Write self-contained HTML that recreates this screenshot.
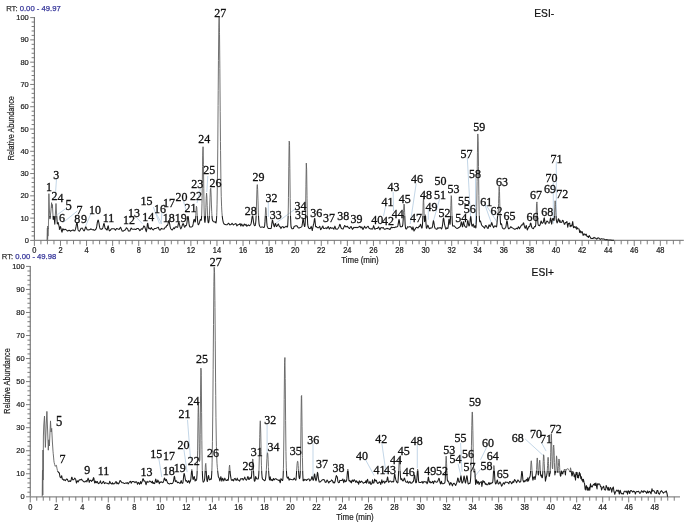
<!DOCTYPE html>
<html><head><meta charset="utf-8"><style>html,body{margin:0;padding:0;background:#fff;overflow:hidden}svg{display:block;filter:blur(0.3px)}</style></head>
<body><svg width="685" height="527" viewBox="0 0 685 527">
<style>
.ax{font-family:"Liberation Sans",sans-serif;font-size:7.5px;fill:#222;stroke:#222;stroke-width:0.2px}
.pk{font-family:"Liberation Serif",serif;font-size:12px;fill:#111;stroke:#111;stroke-width:0.3px}
.rt{font-family:"Liberation Sans",sans-serif;font-size:8px;fill:#333;stroke:#333;stroke-width:0.25px}
.rtb{fill:#36369a;stroke:#36369a}
.esi{font-family:"Liberation Sans",sans-serif;font-size:10.2px;fill:#111;stroke:#111;stroke-width:0.2px}
.ld line{stroke:#a9c4dc;stroke-width:0.7}
</style>
<rect width="685" height="527" fill="#fff"/>
<text x="6.2" y="10.5" class="rt" textLength="54.5" lengthAdjust="spacingAndGlyphs">RT: <tspan class="rtb">0.00 - 49.97</tspan></text>
<text x="1.8" y="259" class="rt" textLength="54.5" lengthAdjust="spacingAndGlyphs">RT: <tspan class="rtb">0.00 - 49.98</tspan></text>
<text x="534.3" y="17.2" class="esi">ESI-</text>
<text x="531.6" y="276.3" class="esi">ESI+</text>
<text transform="translate(13.7,128.2) rotate(-90)" text-anchor="middle" class="ax" style="font-size:8.2px" textLength="64" lengthAdjust="spacingAndGlyphs">Relative Abundance</text>
<text transform="translate(9.7,380.9) rotate(-90)" text-anchor="middle" class="ax" style="font-size:8.2px" textLength="65.5" lengthAdjust="spacingAndGlyphs">Relative Abundance</text>
<text x="360" y="262.9" text-anchor="middle" class="ax" style="font-size:8.4px" textLength="37.5" lengthAdjust="spacingAndGlyphs">Time (min)</text>
<text x="355" y="520" text-anchor="middle" class="ax" style="font-size:8.4px" textLength="37.5" lengthAdjust="spacingAndGlyphs">Time (min)</text>
<line x1="34.4" y1="17.1" x2="34.4" y2="240.4" stroke="#6e6e6e" stroke-width="1.1"/>
<line x1="30.2" y1="240.40" x2="34.4" y2="240.40" stroke="#6e6e6e" stroke-width="0.9"/>
<text x="28.799999999999997" y="243.00" text-anchor="end" class="ax">0</text>
<line x1="31.599999999999998" y1="235.94" x2="34.4" y2="235.94" stroke="#6e6e6e" stroke-width="0.9"/>
<line x1="31.599999999999998" y1="231.49" x2="34.4" y2="231.49" stroke="#6e6e6e" stroke-width="0.9"/>
<line x1="31.599999999999998" y1="227.03" x2="34.4" y2="227.03" stroke="#6e6e6e" stroke-width="0.9"/>
<line x1="31.599999999999998" y1="222.58" x2="34.4" y2="222.58" stroke="#6e6e6e" stroke-width="0.9"/>
<line x1="30.2" y1="218.12" x2="34.4" y2="218.12" stroke="#6e6e6e" stroke-width="0.9"/>
<text x="28.799999999999997" y="220.72" text-anchor="end" class="ax">10</text>
<line x1="31.599999999999998" y1="213.66" x2="34.4" y2="213.66" stroke="#6e6e6e" stroke-width="0.9"/>
<line x1="31.599999999999998" y1="209.21" x2="34.4" y2="209.21" stroke="#6e6e6e" stroke-width="0.9"/>
<line x1="31.599999999999998" y1="204.75" x2="34.4" y2="204.75" stroke="#6e6e6e" stroke-width="0.9"/>
<line x1="31.599999999999998" y1="200.30" x2="34.4" y2="200.30" stroke="#6e6e6e" stroke-width="0.9"/>
<line x1="30.2" y1="195.84" x2="34.4" y2="195.84" stroke="#6e6e6e" stroke-width="0.9"/>
<text x="28.799999999999997" y="198.44" text-anchor="end" class="ax">20</text>
<line x1="31.599999999999998" y1="191.38" x2="34.4" y2="191.38" stroke="#6e6e6e" stroke-width="0.9"/>
<line x1="31.599999999999998" y1="186.93" x2="34.4" y2="186.93" stroke="#6e6e6e" stroke-width="0.9"/>
<line x1="31.599999999999998" y1="182.47" x2="34.4" y2="182.47" stroke="#6e6e6e" stroke-width="0.9"/>
<line x1="31.599999999999998" y1="178.02" x2="34.4" y2="178.02" stroke="#6e6e6e" stroke-width="0.9"/>
<line x1="30.2" y1="173.56" x2="34.4" y2="173.56" stroke="#6e6e6e" stroke-width="0.9"/>
<text x="28.799999999999997" y="176.16" text-anchor="end" class="ax">30</text>
<line x1="31.599999999999998" y1="169.10" x2="34.4" y2="169.10" stroke="#6e6e6e" stroke-width="0.9"/>
<line x1="31.599999999999998" y1="164.65" x2="34.4" y2="164.65" stroke="#6e6e6e" stroke-width="0.9"/>
<line x1="31.599999999999998" y1="160.19" x2="34.4" y2="160.19" stroke="#6e6e6e" stroke-width="0.9"/>
<line x1="31.599999999999998" y1="155.74" x2="34.4" y2="155.74" stroke="#6e6e6e" stroke-width="0.9"/>
<line x1="30.2" y1="151.28" x2="34.4" y2="151.28" stroke="#6e6e6e" stroke-width="0.9"/>
<text x="28.799999999999997" y="153.88" text-anchor="end" class="ax">40</text>
<line x1="31.599999999999998" y1="146.82" x2="34.4" y2="146.82" stroke="#6e6e6e" stroke-width="0.9"/>
<line x1="31.599999999999998" y1="142.37" x2="34.4" y2="142.37" stroke="#6e6e6e" stroke-width="0.9"/>
<line x1="31.599999999999998" y1="137.91" x2="34.4" y2="137.91" stroke="#6e6e6e" stroke-width="0.9"/>
<line x1="31.599999999999998" y1="133.46" x2="34.4" y2="133.46" stroke="#6e6e6e" stroke-width="0.9"/>
<line x1="30.2" y1="129.00" x2="34.4" y2="129.00" stroke="#6e6e6e" stroke-width="0.9"/>
<text x="28.799999999999997" y="131.60" text-anchor="end" class="ax">50</text>
<line x1="31.599999999999998" y1="124.54" x2="34.4" y2="124.54" stroke="#6e6e6e" stroke-width="0.9"/>
<line x1="31.599999999999998" y1="120.09" x2="34.4" y2="120.09" stroke="#6e6e6e" stroke-width="0.9"/>
<line x1="31.599999999999998" y1="115.63" x2="34.4" y2="115.63" stroke="#6e6e6e" stroke-width="0.9"/>
<line x1="31.599999999999998" y1="111.18" x2="34.4" y2="111.18" stroke="#6e6e6e" stroke-width="0.9"/>
<line x1="30.2" y1="106.72" x2="34.4" y2="106.72" stroke="#6e6e6e" stroke-width="0.9"/>
<text x="28.799999999999997" y="109.32" text-anchor="end" class="ax">60</text>
<line x1="31.599999999999998" y1="102.26" x2="34.4" y2="102.26" stroke="#6e6e6e" stroke-width="0.9"/>
<line x1="31.599999999999998" y1="97.81" x2="34.4" y2="97.81" stroke="#6e6e6e" stroke-width="0.9"/>
<line x1="31.599999999999998" y1="93.35" x2="34.4" y2="93.35" stroke="#6e6e6e" stroke-width="0.9"/>
<line x1="31.599999999999998" y1="88.90" x2="34.4" y2="88.90" stroke="#6e6e6e" stroke-width="0.9"/>
<line x1="30.2" y1="84.44" x2="34.4" y2="84.44" stroke="#6e6e6e" stroke-width="0.9"/>
<text x="28.799999999999997" y="87.04" text-anchor="end" class="ax">70</text>
<line x1="31.599999999999998" y1="79.98" x2="34.4" y2="79.98" stroke="#6e6e6e" stroke-width="0.9"/>
<line x1="31.599999999999998" y1="75.53" x2="34.4" y2="75.53" stroke="#6e6e6e" stroke-width="0.9"/>
<line x1="31.599999999999998" y1="71.07" x2="34.4" y2="71.07" stroke="#6e6e6e" stroke-width="0.9"/>
<line x1="31.599999999999998" y1="66.62" x2="34.4" y2="66.62" stroke="#6e6e6e" stroke-width="0.9"/>
<line x1="30.2" y1="62.16" x2="34.4" y2="62.16" stroke="#6e6e6e" stroke-width="0.9"/>
<text x="28.799999999999997" y="64.76" text-anchor="end" class="ax">80</text>
<line x1="31.599999999999998" y1="57.70" x2="34.4" y2="57.70" stroke="#6e6e6e" stroke-width="0.9"/>
<line x1="31.599999999999998" y1="53.25" x2="34.4" y2="53.25" stroke="#6e6e6e" stroke-width="0.9"/>
<line x1="31.599999999999998" y1="48.79" x2="34.4" y2="48.79" stroke="#6e6e6e" stroke-width="0.9"/>
<line x1="31.599999999999998" y1="44.34" x2="34.4" y2="44.34" stroke="#6e6e6e" stroke-width="0.9"/>
<line x1="30.2" y1="39.88" x2="34.4" y2="39.88" stroke="#6e6e6e" stroke-width="0.9"/>
<text x="28.799999999999997" y="42.48" text-anchor="end" class="ax">90</text>
<line x1="31.599999999999998" y1="35.42" x2="34.4" y2="35.42" stroke="#6e6e6e" stroke-width="0.9"/>
<line x1="31.599999999999998" y1="30.97" x2="34.4" y2="30.97" stroke="#6e6e6e" stroke-width="0.9"/>
<line x1="31.599999999999998" y1="26.51" x2="34.4" y2="26.51" stroke="#6e6e6e" stroke-width="0.9"/>
<line x1="31.599999999999998" y1="22.06" x2="34.4" y2="22.06" stroke="#6e6e6e" stroke-width="0.9"/>
<line x1="30.2" y1="17.60" x2="34.4" y2="17.60" stroke="#6e6e6e" stroke-width="0.9"/>
<text x="28.799999999999997" y="20.20" text-anchor="end" class="ax">100</text>
<line x1="34.4" y1="240.4" x2="683.8" y2="240.4" stroke="#8a8a8a" stroke-width="1.2"/>
<line x1="34.40" y1="240.4" x2="34.40" y2="245.9" stroke="#6e6e6e" stroke-width="0.9"/>
<text transform="translate(34.40,252.60) scale(1,1.2)" text-anchor="middle" class="ax">0</text>
<line x1="40.92" y1="240.4" x2="40.92" y2="244.3" stroke="#6e6e6e" stroke-width="0.9"/>
<line x1="47.44" y1="240.4" x2="47.44" y2="244.3" stroke="#6e6e6e" stroke-width="0.9"/>
<line x1="53.96" y1="240.4" x2="53.96" y2="244.3" stroke="#6e6e6e" stroke-width="0.9"/>
<line x1="60.48" y1="240.4" x2="60.48" y2="245.9" stroke="#6e6e6e" stroke-width="0.9"/>
<text transform="translate(60.48,252.60) scale(1,1.2)" text-anchor="middle" class="ax">2</text>
<line x1="67.00" y1="240.4" x2="67.00" y2="244.3" stroke="#6e6e6e" stroke-width="0.9"/>
<line x1="73.52" y1="240.4" x2="73.52" y2="244.3" stroke="#6e6e6e" stroke-width="0.9"/>
<line x1="80.04" y1="240.4" x2="80.04" y2="244.3" stroke="#6e6e6e" stroke-width="0.9"/>
<line x1="86.56" y1="240.4" x2="86.56" y2="245.9" stroke="#6e6e6e" stroke-width="0.9"/>
<text transform="translate(86.56,252.60) scale(1,1.2)" text-anchor="middle" class="ax">4</text>
<line x1="93.08" y1="240.4" x2="93.08" y2="244.3" stroke="#6e6e6e" stroke-width="0.9"/>
<line x1="99.60" y1="240.4" x2="99.60" y2="244.3" stroke="#6e6e6e" stroke-width="0.9"/>
<line x1="106.12" y1="240.4" x2="106.12" y2="244.3" stroke="#6e6e6e" stroke-width="0.9"/>
<line x1="112.64" y1="240.4" x2="112.64" y2="245.9" stroke="#6e6e6e" stroke-width="0.9"/>
<text transform="translate(112.64,252.60) scale(1,1.2)" text-anchor="middle" class="ax">6</text>
<line x1="119.16" y1="240.4" x2="119.16" y2="244.3" stroke="#6e6e6e" stroke-width="0.9"/>
<line x1="125.68" y1="240.4" x2="125.68" y2="244.3" stroke="#6e6e6e" stroke-width="0.9"/>
<line x1="132.20" y1="240.4" x2="132.20" y2="244.3" stroke="#6e6e6e" stroke-width="0.9"/>
<line x1="138.72" y1="240.4" x2="138.72" y2="245.9" stroke="#6e6e6e" stroke-width="0.9"/>
<text transform="translate(138.72,252.60) scale(1,1.2)" text-anchor="middle" class="ax">8</text>
<line x1="145.24" y1="240.4" x2="145.24" y2="244.3" stroke="#6e6e6e" stroke-width="0.9"/>
<line x1="151.76" y1="240.4" x2="151.76" y2="244.3" stroke="#6e6e6e" stroke-width="0.9"/>
<line x1="158.28" y1="240.4" x2="158.28" y2="244.3" stroke="#6e6e6e" stroke-width="0.9"/>
<line x1="164.80" y1="240.4" x2="164.80" y2="245.9" stroke="#6e6e6e" stroke-width="0.9"/>
<text transform="translate(164.80,252.60) scale(1,1.2)" text-anchor="middle" class="ax">10</text>
<line x1="171.32" y1="240.4" x2="171.32" y2="244.3" stroke="#6e6e6e" stroke-width="0.9"/>
<line x1="177.84" y1="240.4" x2="177.84" y2="244.3" stroke="#6e6e6e" stroke-width="0.9"/>
<line x1="184.36" y1="240.4" x2="184.36" y2="244.3" stroke="#6e6e6e" stroke-width="0.9"/>
<line x1="190.88" y1="240.4" x2="190.88" y2="245.9" stroke="#6e6e6e" stroke-width="0.9"/>
<text transform="translate(190.88,252.60) scale(1,1.2)" text-anchor="middle" class="ax">12</text>
<line x1="197.40" y1="240.4" x2="197.40" y2="244.3" stroke="#6e6e6e" stroke-width="0.9"/>
<line x1="203.92" y1="240.4" x2="203.92" y2="244.3" stroke="#6e6e6e" stroke-width="0.9"/>
<line x1="210.44" y1="240.4" x2="210.44" y2="244.3" stroke="#6e6e6e" stroke-width="0.9"/>
<line x1="216.96" y1="240.4" x2="216.96" y2="245.9" stroke="#6e6e6e" stroke-width="0.9"/>
<text transform="translate(216.96,252.60) scale(1,1.2)" text-anchor="middle" class="ax">14</text>
<line x1="223.48" y1="240.4" x2="223.48" y2="244.3" stroke="#6e6e6e" stroke-width="0.9"/>
<line x1="230.00" y1="240.4" x2="230.00" y2="244.3" stroke="#6e6e6e" stroke-width="0.9"/>
<line x1="236.52" y1="240.4" x2="236.52" y2="244.3" stroke="#6e6e6e" stroke-width="0.9"/>
<line x1="243.04" y1="240.4" x2="243.04" y2="245.9" stroke="#6e6e6e" stroke-width="0.9"/>
<text transform="translate(243.04,252.60) scale(1,1.2)" text-anchor="middle" class="ax">16</text>
<line x1="249.56" y1="240.4" x2="249.56" y2="244.3" stroke="#6e6e6e" stroke-width="0.9"/>
<line x1="256.08" y1="240.4" x2="256.08" y2="244.3" stroke="#6e6e6e" stroke-width="0.9"/>
<line x1="262.60" y1="240.4" x2="262.60" y2="244.3" stroke="#6e6e6e" stroke-width="0.9"/>
<line x1="269.12" y1="240.4" x2="269.12" y2="245.9" stroke="#6e6e6e" stroke-width="0.9"/>
<text transform="translate(269.12,252.60) scale(1,1.2)" text-anchor="middle" class="ax">18</text>
<line x1="275.64" y1="240.4" x2="275.64" y2="244.3" stroke="#6e6e6e" stroke-width="0.9"/>
<line x1="282.16" y1="240.4" x2="282.16" y2="244.3" stroke="#6e6e6e" stroke-width="0.9"/>
<line x1="288.68" y1="240.4" x2="288.68" y2="244.3" stroke="#6e6e6e" stroke-width="0.9"/>
<line x1="295.20" y1="240.4" x2="295.20" y2="245.9" stroke="#6e6e6e" stroke-width="0.9"/>
<text transform="translate(295.20,252.60) scale(1,1.2)" text-anchor="middle" class="ax">20</text>
<line x1="301.72" y1="240.4" x2="301.72" y2="244.3" stroke="#6e6e6e" stroke-width="0.9"/>
<line x1="308.24" y1="240.4" x2="308.24" y2="244.3" stroke="#6e6e6e" stroke-width="0.9"/>
<line x1="314.76" y1="240.4" x2="314.76" y2="244.3" stroke="#6e6e6e" stroke-width="0.9"/>
<line x1="321.28" y1="240.4" x2="321.28" y2="245.9" stroke="#6e6e6e" stroke-width="0.9"/>
<text transform="translate(321.28,252.60) scale(1,1.2)" text-anchor="middle" class="ax">22</text>
<line x1="327.80" y1="240.4" x2="327.80" y2="244.3" stroke="#6e6e6e" stroke-width="0.9"/>
<line x1="334.32" y1="240.4" x2="334.32" y2="244.3" stroke="#6e6e6e" stroke-width="0.9"/>
<line x1="340.84" y1="240.4" x2="340.84" y2="244.3" stroke="#6e6e6e" stroke-width="0.9"/>
<line x1="347.36" y1="240.4" x2="347.36" y2="245.9" stroke="#6e6e6e" stroke-width="0.9"/>
<text transform="translate(347.36,252.60) scale(1,1.2)" text-anchor="middle" class="ax">24</text>
<line x1="353.88" y1="240.4" x2="353.88" y2="244.3" stroke="#6e6e6e" stroke-width="0.9"/>
<line x1="360.40" y1="240.4" x2="360.40" y2="244.3" stroke="#6e6e6e" stroke-width="0.9"/>
<line x1="366.92" y1="240.4" x2="366.92" y2="244.3" stroke="#6e6e6e" stroke-width="0.9"/>
<line x1="373.44" y1="240.4" x2="373.44" y2="245.9" stroke="#6e6e6e" stroke-width="0.9"/>
<text transform="translate(373.44,252.60) scale(1,1.2)" text-anchor="middle" class="ax">26</text>
<line x1="379.96" y1="240.4" x2="379.96" y2="244.3" stroke="#6e6e6e" stroke-width="0.9"/>
<line x1="386.48" y1="240.4" x2="386.48" y2="244.3" stroke="#6e6e6e" stroke-width="0.9"/>
<line x1="393.00" y1="240.4" x2="393.00" y2="244.3" stroke="#6e6e6e" stroke-width="0.9"/>
<line x1="399.52" y1="240.4" x2="399.52" y2="245.9" stroke="#6e6e6e" stroke-width="0.9"/>
<text transform="translate(399.52,252.60) scale(1,1.2)" text-anchor="middle" class="ax">28</text>
<line x1="406.04" y1="240.4" x2="406.04" y2="244.3" stroke="#6e6e6e" stroke-width="0.9"/>
<line x1="412.56" y1="240.4" x2="412.56" y2="244.3" stroke="#6e6e6e" stroke-width="0.9"/>
<line x1="419.08" y1="240.4" x2="419.08" y2="244.3" stroke="#6e6e6e" stroke-width="0.9"/>
<line x1="425.60" y1="240.4" x2="425.60" y2="245.9" stroke="#6e6e6e" stroke-width="0.9"/>
<text transform="translate(425.60,252.60) scale(1,1.2)" text-anchor="middle" class="ax">30</text>
<line x1="432.12" y1="240.4" x2="432.12" y2="244.3" stroke="#6e6e6e" stroke-width="0.9"/>
<line x1="438.64" y1="240.4" x2="438.64" y2="244.3" stroke="#6e6e6e" stroke-width="0.9"/>
<line x1="445.16" y1="240.4" x2="445.16" y2="244.3" stroke="#6e6e6e" stroke-width="0.9"/>
<line x1="451.68" y1="240.4" x2="451.68" y2="245.9" stroke="#6e6e6e" stroke-width="0.9"/>
<text transform="translate(451.68,252.60) scale(1,1.2)" text-anchor="middle" class="ax">32</text>
<line x1="458.20" y1="240.4" x2="458.20" y2="244.3" stroke="#6e6e6e" stroke-width="0.9"/>
<line x1="464.72" y1="240.4" x2="464.72" y2="244.3" stroke="#6e6e6e" stroke-width="0.9"/>
<line x1="471.24" y1="240.4" x2="471.24" y2="244.3" stroke="#6e6e6e" stroke-width="0.9"/>
<line x1="477.76" y1="240.4" x2="477.76" y2="245.9" stroke="#6e6e6e" stroke-width="0.9"/>
<text transform="translate(477.76,252.60) scale(1,1.2)" text-anchor="middle" class="ax">34</text>
<line x1="484.28" y1="240.4" x2="484.28" y2="244.3" stroke="#6e6e6e" stroke-width="0.9"/>
<line x1="490.80" y1="240.4" x2="490.80" y2="244.3" stroke="#6e6e6e" stroke-width="0.9"/>
<line x1="497.32" y1="240.4" x2="497.32" y2="244.3" stroke="#6e6e6e" stroke-width="0.9"/>
<line x1="503.84" y1="240.4" x2="503.84" y2="245.9" stroke="#6e6e6e" stroke-width="0.9"/>
<text transform="translate(503.84,252.60) scale(1,1.2)" text-anchor="middle" class="ax">36</text>
<line x1="510.36" y1="240.4" x2="510.36" y2="244.3" stroke="#6e6e6e" stroke-width="0.9"/>
<line x1="516.88" y1="240.4" x2="516.88" y2="244.3" stroke="#6e6e6e" stroke-width="0.9"/>
<line x1="523.40" y1="240.4" x2="523.40" y2="244.3" stroke="#6e6e6e" stroke-width="0.9"/>
<line x1="529.92" y1="240.4" x2="529.92" y2="245.9" stroke="#6e6e6e" stroke-width="0.9"/>
<text transform="translate(529.92,252.60) scale(1,1.2)" text-anchor="middle" class="ax">38</text>
<line x1="536.44" y1="240.4" x2="536.44" y2="244.3" stroke="#6e6e6e" stroke-width="0.9"/>
<line x1="542.96" y1="240.4" x2="542.96" y2="244.3" stroke="#6e6e6e" stroke-width="0.9"/>
<line x1="549.48" y1="240.4" x2="549.48" y2="244.3" stroke="#6e6e6e" stroke-width="0.9"/>
<line x1="556.00" y1="240.4" x2="556.00" y2="245.9" stroke="#6e6e6e" stroke-width="0.9"/>
<text transform="translate(556.00,252.60) scale(1,1.2)" text-anchor="middle" class="ax">40</text>
<line x1="562.52" y1="240.4" x2="562.52" y2="244.3" stroke="#6e6e6e" stroke-width="0.9"/>
<line x1="569.04" y1="240.4" x2="569.04" y2="244.3" stroke="#6e6e6e" stroke-width="0.9"/>
<line x1="575.56" y1="240.4" x2="575.56" y2="244.3" stroke="#6e6e6e" stroke-width="0.9"/>
<line x1="582.08" y1="240.4" x2="582.08" y2="245.9" stroke="#6e6e6e" stroke-width="0.9"/>
<text transform="translate(582.08,252.60) scale(1,1.2)" text-anchor="middle" class="ax">42</text>
<line x1="588.60" y1="240.4" x2="588.60" y2="244.3" stroke="#6e6e6e" stroke-width="0.9"/>
<line x1="595.12" y1="240.4" x2="595.12" y2="244.3" stroke="#6e6e6e" stroke-width="0.9"/>
<line x1="601.64" y1="240.4" x2="601.64" y2="244.3" stroke="#6e6e6e" stroke-width="0.9"/>
<line x1="608.16" y1="240.4" x2="608.16" y2="245.9" stroke="#6e6e6e" stroke-width="0.9"/>
<text transform="translate(608.16,252.60) scale(1,1.2)" text-anchor="middle" class="ax">44</text>
<line x1="614.68" y1="240.4" x2="614.68" y2="244.3" stroke="#6e6e6e" stroke-width="0.9"/>
<line x1="621.20" y1="240.4" x2="621.20" y2="244.3" stroke="#6e6e6e" stroke-width="0.9"/>
<line x1="627.72" y1="240.4" x2="627.72" y2="244.3" stroke="#6e6e6e" stroke-width="0.9"/>
<line x1="634.24" y1="240.4" x2="634.24" y2="245.9" stroke="#6e6e6e" stroke-width="0.9"/>
<text transform="translate(634.24,252.60) scale(1,1.2)" text-anchor="middle" class="ax">46</text>
<line x1="640.76" y1="240.4" x2="640.76" y2="244.3" stroke="#6e6e6e" stroke-width="0.9"/>
<line x1="647.28" y1="240.4" x2="647.28" y2="244.3" stroke="#6e6e6e" stroke-width="0.9"/>
<line x1="653.80" y1="240.4" x2="653.80" y2="244.3" stroke="#6e6e6e" stroke-width="0.9"/>
<line x1="660.32" y1="240.4" x2="660.32" y2="245.9" stroke="#6e6e6e" stroke-width="0.9"/>
<text transform="translate(660.32,252.60) scale(1,1.2)" text-anchor="middle" class="ax">48</text>
<line x1="666.84" y1="240.4" x2="666.84" y2="244.3" stroke="#6e6e6e" stroke-width="0.9"/>
<line x1="673.36" y1="240.4" x2="673.36" y2="244.3" stroke="#6e6e6e" stroke-width="0.9"/>
<line x1="679.88" y1="240.4" x2="679.88" y2="244.3" stroke="#6e6e6e" stroke-width="0.9"/>
<line x1="30.25" y1="265.9" x2="30.25" y2="496.8" stroke="#6e6e6e" stroke-width="1.1"/>
<line x1="26.05" y1="496.80" x2="30.25" y2="496.80" stroke="#6e6e6e" stroke-width="0.9"/>
<text x="24.65" y="499.40" text-anchor="end" class="ax">0</text>
<line x1="27.45" y1="492.19" x2="30.25" y2="492.19" stroke="#6e6e6e" stroke-width="0.9"/>
<line x1="27.45" y1="487.58" x2="30.25" y2="487.58" stroke="#6e6e6e" stroke-width="0.9"/>
<line x1="27.45" y1="482.98" x2="30.25" y2="482.98" stroke="#6e6e6e" stroke-width="0.9"/>
<line x1="27.45" y1="478.37" x2="30.25" y2="478.37" stroke="#6e6e6e" stroke-width="0.9"/>
<line x1="26.05" y1="473.76" x2="30.25" y2="473.76" stroke="#6e6e6e" stroke-width="0.9"/>
<text x="24.65" y="476.36" text-anchor="end" class="ax">10</text>
<line x1="27.45" y1="469.15" x2="30.25" y2="469.15" stroke="#6e6e6e" stroke-width="0.9"/>
<line x1="27.45" y1="464.54" x2="30.25" y2="464.54" stroke="#6e6e6e" stroke-width="0.9"/>
<line x1="27.45" y1="459.94" x2="30.25" y2="459.94" stroke="#6e6e6e" stroke-width="0.9"/>
<line x1="27.45" y1="455.33" x2="30.25" y2="455.33" stroke="#6e6e6e" stroke-width="0.9"/>
<line x1="26.05" y1="450.72" x2="30.25" y2="450.72" stroke="#6e6e6e" stroke-width="0.9"/>
<text x="24.65" y="453.32" text-anchor="end" class="ax">20</text>
<line x1="27.45" y1="446.11" x2="30.25" y2="446.11" stroke="#6e6e6e" stroke-width="0.9"/>
<line x1="27.45" y1="441.50" x2="30.25" y2="441.50" stroke="#6e6e6e" stroke-width="0.9"/>
<line x1="27.45" y1="436.90" x2="30.25" y2="436.90" stroke="#6e6e6e" stroke-width="0.9"/>
<line x1="27.45" y1="432.29" x2="30.25" y2="432.29" stroke="#6e6e6e" stroke-width="0.9"/>
<line x1="26.05" y1="427.68" x2="30.25" y2="427.68" stroke="#6e6e6e" stroke-width="0.9"/>
<text x="24.65" y="430.28" text-anchor="end" class="ax">30</text>
<line x1="27.45" y1="423.07" x2="30.25" y2="423.07" stroke="#6e6e6e" stroke-width="0.9"/>
<line x1="27.45" y1="418.46" x2="30.25" y2="418.46" stroke="#6e6e6e" stroke-width="0.9"/>
<line x1="27.45" y1="413.86" x2="30.25" y2="413.86" stroke="#6e6e6e" stroke-width="0.9"/>
<line x1="27.45" y1="409.25" x2="30.25" y2="409.25" stroke="#6e6e6e" stroke-width="0.9"/>
<line x1="26.05" y1="404.64" x2="30.25" y2="404.64" stroke="#6e6e6e" stroke-width="0.9"/>
<text x="24.65" y="407.24" text-anchor="end" class="ax">40</text>
<line x1="27.45" y1="400.03" x2="30.25" y2="400.03" stroke="#6e6e6e" stroke-width="0.9"/>
<line x1="27.45" y1="395.42" x2="30.25" y2="395.42" stroke="#6e6e6e" stroke-width="0.9"/>
<line x1="27.45" y1="390.82" x2="30.25" y2="390.82" stroke="#6e6e6e" stroke-width="0.9"/>
<line x1="27.45" y1="386.21" x2="30.25" y2="386.21" stroke="#6e6e6e" stroke-width="0.9"/>
<line x1="26.05" y1="381.60" x2="30.25" y2="381.60" stroke="#6e6e6e" stroke-width="0.9"/>
<text x="24.65" y="384.20" text-anchor="end" class="ax">50</text>
<line x1="27.45" y1="376.99" x2="30.25" y2="376.99" stroke="#6e6e6e" stroke-width="0.9"/>
<line x1="27.45" y1="372.38" x2="30.25" y2="372.38" stroke="#6e6e6e" stroke-width="0.9"/>
<line x1="27.45" y1="367.78" x2="30.25" y2="367.78" stroke="#6e6e6e" stroke-width="0.9"/>
<line x1="27.45" y1="363.17" x2="30.25" y2="363.17" stroke="#6e6e6e" stroke-width="0.9"/>
<line x1="26.05" y1="358.56" x2="30.25" y2="358.56" stroke="#6e6e6e" stroke-width="0.9"/>
<text x="24.65" y="361.16" text-anchor="end" class="ax">60</text>
<line x1="27.45" y1="353.95" x2="30.25" y2="353.95" stroke="#6e6e6e" stroke-width="0.9"/>
<line x1="27.45" y1="349.34" x2="30.25" y2="349.34" stroke="#6e6e6e" stroke-width="0.9"/>
<line x1="27.45" y1="344.74" x2="30.25" y2="344.74" stroke="#6e6e6e" stroke-width="0.9"/>
<line x1="27.45" y1="340.13" x2="30.25" y2="340.13" stroke="#6e6e6e" stroke-width="0.9"/>
<line x1="26.05" y1="335.52" x2="30.25" y2="335.52" stroke="#6e6e6e" stroke-width="0.9"/>
<text x="24.65" y="338.12" text-anchor="end" class="ax">70</text>
<line x1="27.45" y1="330.91" x2="30.25" y2="330.91" stroke="#6e6e6e" stroke-width="0.9"/>
<line x1="27.45" y1="326.30" x2="30.25" y2="326.30" stroke="#6e6e6e" stroke-width="0.9"/>
<line x1="27.45" y1="321.70" x2="30.25" y2="321.70" stroke="#6e6e6e" stroke-width="0.9"/>
<line x1="27.45" y1="317.09" x2="30.25" y2="317.09" stroke="#6e6e6e" stroke-width="0.9"/>
<line x1="26.05" y1="312.48" x2="30.25" y2="312.48" stroke="#6e6e6e" stroke-width="0.9"/>
<text x="24.65" y="315.08" text-anchor="end" class="ax">80</text>
<line x1="27.45" y1="307.87" x2="30.25" y2="307.87" stroke="#6e6e6e" stroke-width="0.9"/>
<line x1="27.45" y1="303.26" x2="30.25" y2="303.26" stroke="#6e6e6e" stroke-width="0.9"/>
<line x1="27.45" y1="298.66" x2="30.25" y2="298.66" stroke="#6e6e6e" stroke-width="0.9"/>
<line x1="27.45" y1="294.05" x2="30.25" y2="294.05" stroke="#6e6e6e" stroke-width="0.9"/>
<line x1="26.05" y1="289.44" x2="30.25" y2="289.44" stroke="#6e6e6e" stroke-width="0.9"/>
<text x="24.65" y="292.04" text-anchor="end" class="ax">90</text>
<line x1="27.45" y1="284.83" x2="30.25" y2="284.83" stroke="#6e6e6e" stroke-width="0.9"/>
<line x1="27.45" y1="280.22" x2="30.25" y2="280.22" stroke="#6e6e6e" stroke-width="0.9"/>
<line x1="27.45" y1="275.62" x2="30.25" y2="275.62" stroke="#6e6e6e" stroke-width="0.9"/>
<line x1="27.45" y1="271.01" x2="30.25" y2="271.01" stroke="#6e6e6e" stroke-width="0.9"/>
<line x1="26.05" y1="266.40" x2="30.25" y2="266.40" stroke="#6e6e6e" stroke-width="0.9"/>
<text x="24.65" y="269.00" text-anchor="end" class="ax">100</text>
<line x1="30.25" y1="496.8" x2="680" y2="496.8" stroke="#8a8a8a" stroke-width="1.2"/>
<line x1="30.25" y1="496.8" x2="30.25" y2="502.40000000000003" stroke="#6e6e6e" stroke-width="0.9"/>
<text transform="translate(30.25,510.10) scale(1,1.2)" text-anchor="middle" class="ax">0</text>
<line x1="36.76" y1="496.8" x2="36.76" y2="500.7" stroke="#6e6e6e" stroke-width="0.9"/>
<line x1="43.26" y1="496.8" x2="43.26" y2="500.7" stroke="#6e6e6e" stroke-width="0.9"/>
<line x1="49.77" y1="496.8" x2="49.77" y2="500.7" stroke="#6e6e6e" stroke-width="0.9"/>
<line x1="56.27" y1="496.8" x2="56.27" y2="502.40000000000003" stroke="#6e6e6e" stroke-width="0.9"/>
<text transform="translate(56.27,510.10) scale(1,1.2)" text-anchor="middle" class="ax">2</text>
<line x1="62.77" y1="496.8" x2="62.77" y2="500.7" stroke="#6e6e6e" stroke-width="0.9"/>
<line x1="69.28" y1="496.8" x2="69.28" y2="500.7" stroke="#6e6e6e" stroke-width="0.9"/>
<line x1="75.78" y1="496.8" x2="75.78" y2="500.7" stroke="#6e6e6e" stroke-width="0.9"/>
<line x1="82.29" y1="496.8" x2="82.29" y2="502.40000000000003" stroke="#6e6e6e" stroke-width="0.9"/>
<text transform="translate(82.29,510.10) scale(1,1.2)" text-anchor="middle" class="ax">4</text>
<line x1="88.80" y1="496.8" x2="88.80" y2="500.7" stroke="#6e6e6e" stroke-width="0.9"/>
<line x1="95.30" y1="496.8" x2="95.30" y2="500.7" stroke="#6e6e6e" stroke-width="0.9"/>
<line x1="101.80" y1="496.8" x2="101.80" y2="500.7" stroke="#6e6e6e" stroke-width="0.9"/>
<line x1="108.31" y1="496.8" x2="108.31" y2="502.40000000000003" stroke="#6e6e6e" stroke-width="0.9"/>
<text transform="translate(108.31,510.10) scale(1,1.2)" text-anchor="middle" class="ax">6</text>
<line x1="114.81" y1="496.8" x2="114.81" y2="500.7" stroke="#6e6e6e" stroke-width="0.9"/>
<line x1="121.32" y1="496.8" x2="121.32" y2="500.7" stroke="#6e6e6e" stroke-width="0.9"/>
<line x1="127.83" y1="496.8" x2="127.83" y2="500.7" stroke="#6e6e6e" stroke-width="0.9"/>
<line x1="134.33" y1="496.8" x2="134.33" y2="502.40000000000003" stroke="#6e6e6e" stroke-width="0.9"/>
<text transform="translate(134.33,510.10) scale(1,1.2)" text-anchor="middle" class="ax">8</text>
<line x1="140.83" y1="496.8" x2="140.83" y2="500.7" stroke="#6e6e6e" stroke-width="0.9"/>
<line x1="147.34" y1="496.8" x2="147.34" y2="500.7" stroke="#6e6e6e" stroke-width="0.9"/>
<line x1="153.84" y1="496.8" x2="153.84" y2="500.7" stroke="#6e6e6e" stroke-width="0.9"/>
<line x1="160.35" y1="496.8" x2="160.35" y2="502.40000000000003" stroke="#6e6e6e" stroke-width="0.9"/>
<text transform="translate(160.35,510.10) scale(1,1.2)" text-anchor="middle" class="ax">10</text>
<line x1="166.85" y1="496.8" x2="166.85" y2="500.7" stroke="#6e6e6e" stroke-width="0.9"/>
<line x1="173.36" y1="496.8" x2="173.36" y2="500.7" stroke="#6e6e6e" stroke-width="0.9"/>
<line x1="179.87" y1="496.8" x2="179.87" y2="500.7" stroke="#6e6e6e" stroke-width="0.9"/>
<line x1="186.37" y1="496.8" x2="186.37" y2="502.40000000000003" stroke="#6e6e6e" stroke-width="0.9"/>
<text transform="translate(186.37,510.10) scale(1,1.2)" text-anchor="middle" class="ax">12</text>
<line x1="192.88" y1="496.8" x2="192.88" y2="500.7" stroke="#6e6e6e" stroke-width="0.9"/>
<line x1="199.38" y1="496.8" x2="199.38" y2="500.7" stroke="#6e6e6e" stroke-width="0.9"/>
<line x1="205.88" y1="496.8" x2="205.88" y2="500.7" stroke="#6e6e6e" stroke-width="0.9"/>
<line x1="212.39" y1="496.8" x2="212.39" y2="502.40000000000003" stroke="#6e6e6e" stroke-width="0.9"/>
<text transform="translate(212.39,510.10) scale(1,1.2)" text-anchor="middle" class="ax">14</text>
<line x1="218.90" y1="496.8" x2="218.90" y2="500.7" stroke="#6e6e6e" stroke-width="0.9"/>
<line x1="225.40" y1="496.8" x2="225.40" y2="500.7" stroke="#6e6e6e" stroke-width="0.9"/>
<line x1="231.91" y1="496.8" x2="231.91" y2="500.7" stroke="#6e6e6e" stroke-width="0.9"/>
<line x1="238.41" y1="496.8" x2="238.41" y2="502.40000000000003" stroke="#6e6e6e" stroke-width="0.9"/>
<text transform="translate(238.41,510.10) scale(1,1.2)" text-anchor="middle" class="ax">16</text>
<line x1="244.91" y1="496.8" x2="244.91" y2="500.7" stroke="#6e6e6e" stroke-width="0.9"/>
<line x1="251.42" y1="496.8" x2="251.42" y2="500.7" stroke="#6e6e6e" stroke-width="0.9"/>
<line x1="257.92" y1="496.8" x2="257.92" y2="500.7" stroke="#6e6e6e" stroke-width="0.9"/>
<line x1="264.43" y1="496.8" x2="264.43" y2="502.40000000000003" stroke="#6e6e6e" stroke-width="0.9"/>
<text transform="translate(264.43,510.10) scale(1,1.2)" text-anchor="middle" class="ax">18</text>
<line x1="270.94" y1="496.8" x2="270.94" y2="500.7" stroke="#6e6e6e" stroke-width="0.9"/>
<line x1="277.44" y1="496.8" x2="277.44" y2="500.7" stroke="#6e6e6e" stroke-width="0.9"/>
<line x1="283.94" y1="496.8" x2="283.94" y2="500.7" stroke="#6e6e6e" stroke-width="0.9"/>
<line x1="290.45" y1="496.8" x2="290.45" y2="502.40000000000003" stroke="#6e6e6e" stroke-width="0.9"/>
<text transform="translate(290.45,510.10) scale(1,1.2)" text-anchor="middle" class="ax">20</text>
<line x1="296.95" y1="496.8" x2="296.95" y2="500.7" stroke="#6e6e6e" stroke-width="0.9"/>
<line x1="303.46" y1="496.8" x2="303.46" y2="500.7" stroke="#6e6e6e" stroke-width="0.9"/>
<line x1="309.96" y1="496.8" x2="309.96" y2="500.7" stroke="#6e6e6e" stroke-width="0.9"/>
<line x1="316.47" y1="496.8" x2="316.47" y2="502.40000000000003" stroke="#6e6e6e" stroke-width="0.9"/>
<text transform="translate(316.47,510.10) scale(1,1.2)" text-anchor="middle" class="ax">22</text>
<line x1="322.98" y1="496.8" x2="322.98" y2="500.7" stroke="#6e6e6e" stroke-width="0.9"/>
<line x1="329.48" y1="496.8" x2="329.48" y2="500.7" stroke="#6e6e6e" stroke-width="0.9"/>
<line x1="335.99" y1="496.8" x2="335.99" y2="500.7" stroke="#6e6e6e" stroke-width="0.9"/>
<line x1="342.49" y1="496.8" x2="342.49" y2="502.40000000000003" stroke="#6e6e6e" stroke-width="0.9"/>
<text transform="translate(342.49,510.10) scale(1,1.2)" text-anchor="middle" class="ax">24</text>
<line x1="349.00" y1="496.8" x2="349.00" y2="500.7" stroke="#6e6e6e" stroke-width="0.9"/>
<line x1="355.50" y1="496.8" x2="355.50" y2="500.7" stroke="#6e6e6e" stroke-width="0.9"/>
<line x1="362.00" y1="496.8" x2="362.00" y2="500.7" stroke="#6e6e6e" stroke-width="0.9"/>
<line x1="368.51" y1="496.8" x2="368.51" y2="502.40000000000003" stroke="#6e6e6e" stroke-width="0.9"/>
<text transform="translate(368.51,510.10) scale(1,1.2)" text-anchor="middle" class="ax">26</text>
<line x1="375.01" y1="496.8" x2="375.01" y2="500.7" stroke="#6e6e6e" stroke-width="0.9"/>
<line x1="381.52" y1="496.8" x2="381.52" y2="500.7" stroke="#6e6e6e" stroke-width="0.9"/>
<line x1="388.02" y1="496.8" x2="388.02" y2="500.7" stroke="#6e6e6e" stroke-width="0.9"/>
<line x1="394.53" y1="496.8" x2="394.53" y2="502.40000000000003" stroke="#6e6e6e" stroke-width="0.9"/>
<text transform="translate(394.53,510.10) scale(1,1.2)" text-anchor="middle" class="ax">28</text>
<line x1="401.03" y1="496.8" x2="401.03" y2="500.7" stroke="#6e6e6e" stroke-width="0.9"/>
<line x1="407.54" y1="496.8" x2="407.54" y2="500.7" stroke="#6e6e6e" stroke-width="0.9"/>
<line x1="414.05" y1="496.8" x2="414.05" y2="500.7" stroke="#6e6e6e" stroke-width="0.9"/>
<line x1="420.55" y1="496.8" x2="420.55" y2="502.40000000000003" stroke="#6e6e6e" stroke-width="0.9"/>
<text transform="translate(420.55,510.10) scale(1,1.2)" text-anchor="middle" class="ax">30</text>
<line x1="427.06" y1="496.8" x2="427.06" y2="500.7" stroke="#6e6e6e" stroke-width="0.9"/>
<line x1="433.56" y1="496.8" x2="433.56" y2="500.7" stroke="#6e6e6e" stroke-width="0.9"/>
<line x1="440.06" y1="496.8" x2="440.06" y2="500.7" stroke="#6e6e6e" stroke-width="0.9"/>
<line x1="446.57" y1="496.8" x2="446.57" y2="502.40000000000003" stroke="#6e6e6e" stroke-width="0.9"/>
<text transform="translate(446.57,510.10) scale(1,1.2)" text-anchor="middle" class="ax">32</text>
<line x1="453.07" y1="496.8" x2="453.07" y2="500.7" stroke="#6e6e6e" stroke-width="0.9"/>
<line x1="459.58" y1="496.8" x2="459.58" y2="500.7" stroke="#6e6e6e" stroke-width="0.9"/>
<line x1="466.08" y1="496.8" x2="466.08" y2="500.7" stroke="#6e6e6e" stroke-width="0.9"/>
<line x1="472.59" y1="496.8" x2="472.59" y2="502.40000000000003" stroke="#6e6e6e" stroke-width="0.9"/>
<text transform="translate(472.59,510.10) scale(1,1.2)" text-anchor="middle" class="ax">34</text>
<line x1="479.09" y1="496.8" x2="479.09" y2="500.7" stroke="#6e6e6e" stroke-width="0.9"/>
<line x1="485.60" y1="496.8" x2="485.60" y2="500.7" stroke="#6e6e6e" stroke-width="0.9"/>
<line x1="492.11" y1="496.8" x2="492.11" y2="500.7" stroke="#6e6e6e" stroke-width="0.9"/>
<line x1="498.61" y1="496.8" x2="498.61" y2="502.40000000000003" stroke="#6e6e6e" stroke-width="0.9"/>
<text transform="translate(498.61,510.10) scale(1,1.2)" text-anchor="middle" class="ax">36</text>
<line x1="505.12" y1="496.8" x2="505.12" y2="500.7" stroke="#6e6e6e" stroke-width="0.9"/>
<line x1="511.62" y1="496.8" x2="511.62" y2="500.7" stroke="#6e6e6e" stroke-width="0.9"/>
<line x1="518.12" y1="496.8" x2="518.12" y2="500.7" stroke="#6e6e6e" stroke-width="0.9"/>
<line x1="524.63" y1="496.8" x2="524.63" y2="502.40000000000003" stroke="#6e6e6e" stroke-width="0.9"/>
<text transform="translate(524.63,510.10) scale(1,1.2)" text-anchor="middle" class="ax">38</text>
<line x1="531.13" y1="496.8" x2="531.13" y2="500.7" stroke="#6e6e6e" stroke-width="0.9"/>
<line x1="537.64" y1="496.8" x2="537.64" y2="500.7" stroke="#6e6e6e" stroke-width="0.9"/>
<line x1="544.14" y1="496.8" x2="544.14" y2="500.7" stroke="#6e6e6e" stroke-width="0.9"/>
<line x1="550.65" y1="496.8" x2="550.65" y2="502.40000000000003" stroke="#6e6e6e" stroke-width="0.9"/>
<text transform="translate(550.65,510.10) scale(1,1.2)" text-anchor="middle" class="ax">40</text>
<line x1="557.15" y1="496.8" x2="557.15" y2="500.7" stroke="#6e6e6e" stroke-width="0.9"/>
<line x1="563.66" y1="496.8" x2="563.66" y2="500.7" stroke="#6e6e6e" stroke-width="0.9"/>
<line x1="570.16" y1="496.8" x2="570.16" y2="500.7" stroke="#6e6e6e" stroke-width="0.9"/>
<line x1="576.67" y1="496.8" x2="576.67" y2="502.40000000000003" stroke="#6e6e6e" stroke-width="0.9"/>
<text transform="translate(576.67,510.10) scale(1,1.2)" text-anchor="middle" class="ax">42</text>
<line x1="583.17" y1="496.8" x2="583.17" y2="500.7" stroke="#6e6e6e" stroke-width="0.9"/>
<line x1="589.68" y1="496.8" x2="589.68" y2="500.7" stroke="#6e6e6e" stroke-width="0.9"/>
<line x1="596.18" y1="496.8" x2="596.18" y2="500.7" stroke="#6e6e6e" stroke-width="0.9"/>
<line x1="602.69" y1="496.8" x2="602.69" y2="502.40000000000003" stroke="#6e6e6e" stroke-width="0.9"/>
<text transform="translate(602.69,510.10) scale(1,1.2)" text-anchor="middle" class="ax">44</text>
<line x1="609.19" y1="496.8" x2="609.19" y2="500.7" stroke="#6e6e6e" stroke-width="0.9"/>
<line x1="615.70" y1="496.8" x2="615.70" y2="500.7" stroke="#6e6e6e" stroke-width="0.9"/>
<line x1="622.21" y1="496.8" x2="622.21" y2="500.7" stroke="#6e6e6e" stroke-width="0.9"/>
<line x1="628.71" y1="496.8" x2="628.71" y2="502.40000000000003" stroke="#6e6e6e" stroke-width="0.9"/>
<text transform="translate(628.71,510.10) scale(1,1.2)" text-anchor="middle" class="ax">46</text>
<line x1="635.22" y1="496.8" x2="635.22" y2="500.7" stroke="#6e6e6e" stroke-width="0.9"/>
<line x1="641.72" y1="496.8" x2="641.72" y2="500.7" stroke="#6e6e6e" stroke-width="0.9"/>
<line x1="648.23" y1="496.8" x2="648.23" y2="500.7" stroke="#6e6e6e" stroke-width="0.9"/>
<line x1="654.73" y1="496.8" x2="654.73" y2="502.40000000000003" stroke="#6e6e6e" stroke-width="0.9"/>
<text transform="translate(654.73,510.10) scale(1,1.2)" text-anchor="middle" class="ax">48</text>
<line x1="661.24" y1="496.8" x2="661.24" y2="500.7" stroke="#6e6e6e" stroke-width="0.9"/>
<line x1="667.74" y1="496.8" x2="667.74" y2="500.7" stroke="#6e6e6e" stroke-width="0.9"/>
<line x1="674.25" y1="496.8" x2="674.25" y2="500.7" stroke="#6e6e6e" stroke-width="0.9"/>
<g class="ld">
<line x1="439.8" y1="198.4" x2="433.4" y2="221"/>
<line x1="56.5" y1="179" x2="55" y2="200"/>
<line x1="66" y1="208.4" x2="57.6" y2="214.5"/>
<line x1="77.3" y1="211" x2="63.3" y2="222.4"/>
<line x1="90.9" y1="213.6" x2="85.7" y2="225.9"/>
<line x1="136.3" y1="217.2" x2="142.4" y2="223.7"/>
<line x1="153.4" y1="207.1" x2="159.5" y2="223.7"/>
<line x1="156" y1="213" x2="161.7" y2="223.7"/>
<line x1="162" y1="212" x2="161" y2="224"/>
<line x1="183.3" y1="200.6" x2="186.8" y2="212.6"/>
<line x1="207.8" y1="176" x2="206.8" y2="192"/>
<line x1="200.5" y1="188" x2="197" y2="203"/>
<line x1="268.3" y1="201" x2="268.3" y2="216.9"/>
<line x1="295" y1="209.2" x2="275.7" y2="223.3"/>
<line x1="385.6" y1="206.2" x2="383.5" y2="216.2"/>
<line x1="393.2" y1="192" x2="393.5" y2="211.2"/>
<line x1="416.2" y1="183.5" x2="410.2" y2="224"/>
<line x1="428.3" y1="208.3" x2="428.3" y2="219.7"/>
<line x1="467.3" y1="157.4" x2="470.8" y2="222"/>
<line x1="475.5" y1="178" x2="475.5" y2="224"/>
<line x1="485" y1="204.9" x2="491.7" y2="224"/>
<line x1="486" y1="205" x2="497" y2="222"/>
<line x1="556.3" y1="161.5" x2="556.3" y2="218"/>
<line x1="553.3" y1="182.3" x2="553.3" y2="223.7"/>
<line x1="158.8" y1="458.5" x2="161.8" y2="477.1"/>
<line x1="187.5" y1="419.9" x2="190.5" y2="458.9"/>
<line x1="183.7" y1="448.1" x2="187.1" y2="472.1"/>
<line x1="267.1" y1="423.7" x2="267.1" y2="457"/>
<line x1="313" y1="443.6" x2="313" y2="478.1"/>
<line x1="365.6" y1="459.8" x2="374.1" y2="475.5"/>
<line x1="381.9" y1="443.5" x2="386.2" y2="474.1"/>
<line x1="417.3" y1="444.9" x2="417.3" y2="468.4"/>
<line x1="460.6" y1="442.9" x2="462" y2="471.8"/>
<line x1="458" y1="463.8" x2="461" y2="475.8"/>
<line x1="486.9" y1="446.8" x2="480.5" y2="459.8"/>
<line x1="480.9" y1="468.8" x2="474.5" y2="476.8"/>
<line x1="525.2" y1="439" x2="542.9" y2="455.2"/>
<line x1="541.3" y1="442.3" x2="546.1" y2="451.1"/>
</g>
<defs>
<clipPath id="cTd"><rect x="0" y="216" width="46.8" height="30"/><rect x="48.6" y="216" width="640" height="30"/></clipPath>
<clipPath id="cTl"><rect x="0" y="0" width="685" height="216"/><rect x="46.8" y="216" width="1.8" height="30"/></clipPath>
<clipPath id="cBd"><rect x="0" y="471" width="41.6" height="40"/><rect x="43.8" y="471" width="640" height="40"/></clipPath>
<clipPath id="cBl"><rect x="0" y="250" width="685" height="221"/><rect x="41.6" y="471" width="2.2" height="40"/></clipPath>
<polyline id="tT" points="47.20,240.20 47.40,228.00 47.60,239.50 47.80,226.00 48.00,236.00 48.20,228.00 48.40,229.00 48.90,193.70 49.40,210.00 50.00,218.70 50.80,212.00 51.60,202.70 52.00,208.00 52.40,204.50 53.20,219.50 54.00,216.00 54.80,224.30 55.50,212.00 56.00,203.50 56.60,214.00 57.30,224.00 58.20,222.50 59.40,227.90 59.41,229.38 59.55,229.08 59.90,228.00 60.25,226.88 60.47,226.62 60.60,226.81 60.95,228.12 61.30,229.87 61.65,231.26 62.00,232.10 62.01,232.11 62.35,230.75 62.70,229.24 62.83,228.66 63.05,228.94 63.40,229.38 63.75,229.83 63.92,230.04 64.10,229.92 64.45,229.68 64.80,229.44 65.08,229.24 65.15,229.28 65.50,229.47 65.85,229.66 66.20,229.86 66.31,229.91 66.55,230.13 66.90,230.44 67.25,230.75 67.60,231.06 67.62,231.08 67.95,230.90 68.30,230.71 68.65,230.52 69.00,230.34 69.21,230.22 69.35,230.31 69.70,230.55 70.05,230.79 70.40,231.02 70.69,231.21 70.75,231.17 71.10,230.93 71.45,230.69 71.80,230.45 71.90,230.38 72.15,230.30 72.50,230.19 72.85,230.07 73.20,229.96 73.35,229.91 73.55,230.17 73.90,230.60 74.11,230.86 74.25,230.83 74.60,230.74 74.88,230.66 74.95,230.52 75.30,229.67 75.65,228.46 75.72,228.14 76.00,226.92 76.35,224.77 76.70,222.87 77.05,222.54 77.21,222.99 77.40,224.59 77.75,227.67 77.95,229.14 78.10,229.72 78.45,230.51 78.80,230.89 79.15,231.14 79.44,231.31 79.50,231.20 79.85,230.55 80.20,229.91 80.55,229.26 80.90,228.62 81.04,228.36 81.25,228.32 81.60,228.26 81.95,228.20 82.28,228.14 82.30,228.18 82.65,228.82 83.00,229.46 83.34,230.09 83.35,230.09 83.70,230.49 84.05,230.82 84.08,230.85 84.40,230.58 84.75,229.82 85.10,228.52 85.45,227.26 85.64,226.95 85.80,226.81 86.15,227.37 86.50,228.40 86.76,228.93 86.85,229.15 87.20,229.67 87.55,229.85 87.90,229.92 88.00,229.94 88.25,229.91 88.60,229.87 88.95,229.84 89.30,229.80 89.54,229.77 89.65,229.70 90.00,229.47 90.35,229.23 90.70,229.00 90.89,228.87 91.05,228.97 91.40,229.18 91.75,229.40 92.10,229.61 92.45,229.82 92.47,229.83 92.80,229.67 93.15,229.50 93.18,229.48 93.50,229.78 93.85,230.11 93.90,230.16 94.20,230.18 94.55,230.20 94.65,230.20 94.90,230.03 95.25,229.78 95.60,229.52 95.95,229.20 95.96,229.19 96.30,228.26 96.65,226.93 97.00,224.95 97.33,222.34 97.35,222.27 97.70,221.00 98.05,220.06 98.40,220.46 98.64,221.79 98.75,222.14 99.10,224.02 99.45,226.22 99.75,227.69 99.80,227.90 100.15,228.83 100.50,229.10 100.78,229.05 100.85,229.07 101.20,229.13 101.55,229.13 101.90,229.11 102.01,229.10 102.25,228.89 102.60,228.39 102.95,227.38 103.30,225.64 103.41,225.02 103.65,223.99 104.00,223.43 104.35,224.48 104.70,226.47 104.77,226.85 105.05,227.97 105.40,228.69 105.75,228.89 106.10,228.89 106.19,228.88 106.45,229.40 106.80,229.95 107.15,230.00 107.28,229.82 107.50,228.45 107.85,226.44 108.20,225.87 108.27,225.96 108.55,227.59 108.90,229.46 109.25,230.59 109.37,230.86 109.60,230.76 109.95,230.54 110.30,230.30 110.37,230.25 110.65,229.89 111.00,229.44 111.35,228.98 111.48,228.82 111.70,228.80 112.05,228.76 112.40,228.72 112.65,228.70 112.75,228.70 113.10,228.69 113.45,228.68 113.80,228.67 114.11,228.67 114.15,228.71 114.50,229.09 114.85,229.46 115.20,229.84 115.53,230.20 115.55,230.17 115.90,229.57 116.25,228.98 116.55,228.47 116.60,228.49 116.95,228.61 117.30,228.72 117.65,228.84 117.96,228.94 118.00,228.96 118.35,229.12 118.70,229.28 119.03,229.44 119.05,229.41 119.40,228.92 119.75,228.42 120.10,227.93 120.45,227.43 120.56,227.27 120.80,227.83 121.15,228.67 121.50,229.50 121.85,230.34 122.11,230.97 122.20,230.98 122.55,231.06 122.90,231.13 123.20,231.20 123.25,231.16 123.60,230.89 123.95,230.62 124.10,230.50 124.30,230.39 124.65,230.18 125.00,229.97 125.35,229.77 125.40,229.74 125.70,229.14 126.05,228.45 126.40,227.76 126.41,227.75 126.75,228.08 127.10,228.42 127.45,228.76 127.64,228.95 127.80,229.40 128.15,230.38 128.38,231.01 128.50,231.01 128.85,231.00 129.20,231.00 129.55,230.99 129.90,230.98 129.91,230.98 130.25,230.15 130.60,229.30 130.95,228.44 131.13,228.01 131.30,228.20 131.65,228.59 131.98,228.97 132.00,228.97 132.35,229.09 132.70,229.20 133.05,229.31 133.16,229.34 133.40,229.30 133.75,229.23 134.10,229.16 134.41,229.09 134.45,229.11 134.80,229.21 135.15,229.32 135.50,229.43 135.85,229.53 135.88,229.54 136.20,229.25 136.55,228.92 136.90,228.60 136.90,228.60 137.25,228.58 137.60,228.55 137.95,228.53 138.30,228.51 138.33,228.50 138.65,228.94 139.00,229.43 139.35,229.92 139.70,230.40 139.86,230.63 140.05,230.47 140.40,230.16 140.57,230.00 140.75,229.70 141.10,229.12 141.31,228.77 141.45,228.82 141.80,228.95 142.15,229.09 142.49,229.22 142.50,229.19 142.85,228.36 143.20,227.53 143.55,226.69 143.89,225.89 143.90,225.90 144.25,226.26 144.60,226.61 144.70,226.72 144.95,227.51 145.30,228.64 145.65,229.76 146.00,230.87 146.28,231.69 146.35,231.44 146.70,229.85 147.05,227.21 147.40,223.92 147.43,223.67 147.75,223.26 148.10,225.16 148.45,227.80 148.45,227.81 148.80,228.62 149.15,228.50 149.47,228.08 149.50,228.12 149.85,228.64 150.20,229.15 150.28,229.27 150.55,228.85 150.90,228.30 151.25,227.74 151.33,227.62 151.60,228.08 151.95,228.65 152.30,229.23 152.36,229.33 152.65,229.50 153.00,229.71 153.35,229.91 153.40,229.94 153.70,229.54 154.05,229.05 154.40,228.57 154.49,228.45 154.75,228.47 155.10,228.49 155.45,228.51 155.80,228.54 155.82,228.54 156.15,228.35 156.50,228.15 156.85,227.95 156.94,227.90 157.20,227.77 157.55,227.60 157.90,227.43 158.25,227.25 158.26,227.25 158.60,228.07 158.95,228.93 159.30,229.79 159.35,229.91 159.65,229.91 160.00,229.91 160.35,229.92 160.38,229.92 160.70,229.41 161.05,228.85 161.32,228.41 161.40,228.45 161.75,228.59 162.10,228.74 162.45,228.88 162.75,229.01 162.80,229.01 163.15,228.99 163.50,228.98 163.85,228.97 164.17,228.95 164.20,228.90 164.55,228.33 164.90,227.77 165.25,227.20 165.37,227.00 165.60,227.03 165.95,227.08 166.08,227.10 166.30,226.58 166.65,225.76 166.82,225.37 167.00,225.41 167.35,225.36 167.70,224.91 168.05,223.69 168.31,222.31 168.40,221.84 168.75,220.53 169.10,220.87 169.45,222.77 169.77,224.75 169.80,224.96 170.15,226.81 170.50,227.93 170.85,228.69 171.07,229.10 171.20,229.20 171.55,229.46 171.90,229.72 172.25,229.97 172.29,230.00 172.60,229.53 172.95,228.98 173.30,228.44 173.65,227.89 173.69,227.84 174.00,228.13 174.35,228.46 174.48,228.58 174.70,228.15 175.05,227.47 175.24,227.10 175.40,227.06 175.75,226.96 176.10,226.87 176.45,226.78 176.68,226.71 176.80,226.85 177.15,227.22 177.50,227.33 177.61,227.27 177.85,226.38 178.20,224.59 178.55,222.85 178.66,222.49 178.90,222.38 179.25,223.38 179.60,224.91 179.68,225.21 179.95,226.55 180.30,227.72 180.65,228.52 180.83,228.87 181.00,228.52 181.35,227.79 181.70,226.98 182.05,225.94 182.20,225.36 182.40,225.09 182.75,224.26 183.10,223.60 183.45,223.93 183.58,224.35 183.80,225.02 184.15,226.23 184.50,227.03 184.72,227.27 184.85,227.06 185.20,226.36 185.55,225.55 185.90,225.71 186.25,225.54 186.60,224.65 186.95,222.72 187.07,221.80 187.30,219.64 187.65,216.83 188.00,215.99 188.35,217.45 188.42,217.95 188.70,220.74 189.05,223.88 189.30,225.49 189.40,225.87 189.75,226.68 190.10,227.02 190.21,227.08 190.45,227.10 190.80,227.09 191.15,227.07 191.18,227.07 191.50,226.95 191.85,226.82 192.20,226.61 192.55,226.29 192.65,226.17 192.90,225.24 193.25,223.44 193.54,221.45 193.60,221.17 193.95,219.69 194.30,219.37 194.59,220.14 194.65,220.48 195.00,222.06 195.35,221.66 195.57,219.69 195.70,217.67 196.05,210.93 196.40,206.20 196.75,207.18 197.10,212.75 197.17,213.97 197.45,219.00 197.80,222.86 198.15,224.47 198.29,224.76 198.50,224.59 198.85,224.11 199.20,223.44 199.49,222.58 199.55,222.40 199.90,220.97 200.25,219.61 200.60,219.45 200.95,220.22 200.96,220.24 201.30,220.19 201.65,216.02 202.00,203.22 202.35,179.87 202.53,166.54 202.70,155.13 203.05,146.74 203.40,161.99 203.44,164.59 203.75,188.26 204.10,209.07 204.45,219.21 204.80,222.28 205.00,222.37 205.15,221.44 205.50,216.84 205.85,208.03 205.87,207.42 206.20,198.37 206.55,193.12 206.90,196.99 207.20,205.68 207.25,207.05 207.60,216.07 207.95,221.04 208.13,222.21 208.30,222.76 208.65,222.75 209.00,221.08 209.22,218.77 209.35,216.51 209.70,208.03 210.00,198.92 210.05,197.34 210.40,189.10 210.75,188.19 211.02,192.92 211.10,194.97 211.45,204.97 211.72,211.79 211.80,213.34 212.15,218.29 212.50,220.37 212.85,220.98 212.86,220.99 213.20,221.34 213.55,221.57 213.90,221.77 214.25,221.97 214.42,222.07 214.60,222.01 214.95,221.89 215.23,221.77 215.30,221.95 215.65,222.70 216.00,222.94 216.03,222.91 216.35,221.03 216.70,215.82 216.82,212.83 217.05,204.19 217.40,182.61 217.75,148.96 218.10,105.44 218.21,90.51 218.45,60.55 218.80,27.13 219.15,16.59 219.50,32.44 219.52,34.21 219.85,68.39 220.20,111.70 220.46,141.62 220.55,150.59 220.90,178.86 221.25,196.59 221.60,206.84 221.77,210.06 221.95,212.84 222.30,216.66 222.65,219.27 222.91,220.62 223.00,221.09 223.35,222.50 223.70,223.38 224.05,223.92 224.22,224.11 224.40,224.21 224.75,224.34 225.10,224.45 225.45,224.55 225.50,224.56 225.80,224.61 226.15,224.66 226.50,224.71 226.85,224.76 227.00,224.78 227.20,224.58 227.55,224.22 227.90,223.86 228.25,223.50 228.54,223.20 228.60,223.27 228.95,223.70 229.30,224.13 229.65,224.56 229.89,224.86 230.00,224.83 230.35,224.73 230.70,224.63 231.05,224.54 231.17,224.50 231.40,224.18 231.75,223.68 232.03,223.28 232.10,223.36 232.45,223.80 232.80,224.24 233.15,224.67 233.41,225.00 233.50,224.93 233.85,224.64 234.20,224.35 234.43,224.16 234.55,224.11 234.90,223.97 235.25,223.81 235.60,223.64 235.92,223.48 235.95,223.56 236.30,224.49 236.65,225.43 236.84,225.94 237.00,225.75 237.35,225.33 237.70,224.90 237.84,224.73 238.05,224.71 238.40,224.68 238.75,224.64 239.10,224.60 239.24,224.59 239.45,224.29 239.80,223.81 240.04,223.48 240.15,223.84 240.50,224.97 240.84,226.05 240.85,226.03 241.20,225.23 241.55,224.44 241.71,224.09 241.90,224.39 242.25,224.94 242.60,225.48 242.95,226.03 243.07,226.22 243.30,225.81 243.65,225.18 244.00,224.55 244.31,224.00 244.35,224.06 244.70,224.58 245.05,225.10 245.18,225.30 245.40,225.07 245.75,224.71 246.06,224.38 246.10,224.48 246.45,225.38 246.79,226.25 246.80,226.25 247.15,225.93 247.50,225.62 247.85,225.31 248.20,225.00 248.34,224.87 248.55,225.02 248.90,225.27 249.25,225.51 249.57,225.74 249.60,225.71 249.95,225.41 250.30,225.07 250.65,224.54 250.89,223.92 251.00,223.70 251.35,222.33 251.70,219.86 252.02,217.24 252.05,217.04 252.40,215.45 252.72,216.16 252.75,216.27 253.10,218.68 253.45,221.61 253.80,223.73 253.87,224.01 254.15,224.99 254.50,225.54 254.74,225.67 254.85,225.69 255.20,225.45 255.55,224.16 255.89,220.51 255.90,220.39 256.25,212.66 256.60,201.00 256.95,189.59 257.10,186.41 257.30,184.61 257.65,189.39 257.92,198.13 258.00,200.81 258.35,212.13 258.67,219.05 258.70,219.61 259.05,223.79 259.40,225.48 259.44,225.58 259.75,226.26 260.10,226.75 260.43,227.15 260.45,227.15 260.80,227.16 261.15,227.16 261.25,227.16 261.50,227.10 261.85,227.01 262.20,226.97 262.55,226.96 262.79,226.95 262.90,227.02 263.25,227.22 263.60,227.43 263.79,227.54 263.95,227.44 264.30,227.05 264.65,225.73 265.00,221.65 265.27,216.01 265.35,214.04 265.70,207.47 266.05,208.62 266.40,215.37 266.41,215.49 266.75,222.29 267.10,225.64 267.18,226.05 267.45,226.87 267.80,227.56 268.15,228.17 268.32,228.48 268.50,228.50 268.85,228.54 269.20,228.50 269.40,228.44 269.55,228.47 269.90,228.53 270.25,228.59 270.52,228.60 270.60,228.60 270.95,228.45 271.30,227.68 271.38,227.35 271.65,225.34 272.00,222.32 272.35,220.31 272.41,220.17 272.70,220.59 273.05,222.36 273.40,224.00 273.65,224.57 273.75,225.10 274.10,226.37 274.45,226.79 274.54,226.76 274.80,225.25 275.15,223.69 275.50,223.55 275.65,223.83 275.85,224.74 276.20,225.98 276.51,226.57 276.55,226.54 276.90,226.14 277.23,225.70 277.25,225.67 277.60,225.12 277.95,224.58 278.30,224.03 278.37,223.92 278.65,224.62 279.00,225.51 279.35,226.40 279.48,226.72 279.70,226.72 280.05,226.72 280.22,226.71 280.40,227.18 280.75,228.10 280.95,228.61 281.10,228.29 281.45,227.56 281.73,226.97 281.80,226.94 282.15,226.83 282.50,226.71 282.85,226.60 282.99,226.55 283.20,226.91 283.55,227.51 283.74,227.84 283.90,227.74 284.25,227.52 284.60,227.31 284.95,227.09 285.15,226.97 285.30,226.86 285.65,226.60 286.00,226.34 286.12,226.25 286.35,226.46 286.70,226.77 287.05,227.04 287.40,227.00 287.55,226.62 287.75,225.15 288.10,217.47 288.33,206.00 288.45,197.71 288.80,166.37 289.15,141.14 289.50,142.13 289.57,145.68 289.85,168.73 290.20,198.56 290.35,207.91 290.55,217.07 290.90,224.97 291.10,226.95 291.25,227.54 291.60,228.24 291.95,228.70 291.98,228.74 292.30,228.70 292.65,228.66 293.00,228.61 293.35,228.57 293.40,228.56 293.70,227.73 294.05,226.74 294.13,226.51 294.40,226.39 294.75,226.23 295.10,226.07 295.45,225.91 295.68,225.80 295.80,225.81 296.15,225.83 296.50,225.86 296.85,225.88 297.15,225.90 297.20,226.00 297.55,226.67 297.90,227.33 298.15,227.81 298.25,227.83 298.60,227.92 298.95,228.00 299.01,228.02 299.30,227.90 299.65,227.75 300.00,227.60 300.35,227.45 300.46,227.41 300.70,227.30 301.05,227.13 301.40,226.89 301.49,226.80 301.75,226.53 302.10,225.44 302.45,223.15 302.80,220.24 302.89,219.63 303.15,218.81 303.50,220.13 303.74,222.23 303.85,223.10 304.20,225.46 304.55,226.57 304.90,226.14 305.08,224.78 305.25,222.50 305.60,209.48 305.92,186.80 305.95,184.20 306.30,163.10 306.65,169.43 307.00,195.67 307.04,198.64 307.35,216.48 307.70,224.42 307.83,225.27 308.05,226.50 308.40,227.36 308.75,227.98 309.10,228.57 309.10,228.58 309.45,228.60 309.80,228.62 310.15,228.65 310.21,228.65 310.50,228.00 310.85,227.21 311.20,226.43 311.21,226.41 311.55,227.74 311.90,229.11 312.25,230.48 312.27,230.55 312.60,228.92 312.95,227.19 313.30,225.34 313.48,224.23 313.65,223.93 314.00,222.29 314.35,219.62 314.70,218.32 314.76,218.43 315.05,220.72 315.40,224.60 315.60,226.44 315.75,226.78 316.10,226.74 316.31,226.43 316.45,226.62 316.80,227.08 317.15,227.52 317.21,227.59 317.50,227.62 317.85,227.66 318.20,227.70 318.55,227.74 318.61,227.75 318.90,227.41 319.25,227.00 319.60,226.59 319.80,226.36 319.95,227.03 320.30,228.55 320.57,229.71 320.65,229.63 321.00,229.28 321.29,228.99 321.35,228.87 321.70,228.18 322.05,227.50 322.40,226.81 322.75,226.12 322.79,226.04 323.10,226.90 323.45,227.87 323.69,228.55 323.80,228.53 324.15,228.47 324.50,228.41 324.85,228.35 324.97,228.33 325.20,228.21 325.55,228.03 325.90,227.85 325.98,227.81 326.25,228.07 326.60,228.42 326.78,228.60 326.95,228.35 327.30,227.84 327.65,227.32 328.00,226.81 328.21,226.50 328.35,226.81 328.70,227.63 329.05,228.44 329.33,229.10 329.40,228.99 329.75,228.40 330.10,227.81 330.34,227.40 330.45,227.48 330.80,227.74 331.15,228.01 331.50,228.28 331.54,228.31 331.85,228.21 332.20,228.09 332.55,227.98 332.82,227.89 332.90,227.98 333.25,228.44 333.60,228.89 333.84,229.21 333.95,228.90 334.30,227.92 334.65,226.94 334.93,226.16 335.00,226.40 335.35,227.57 335.70,228.75 335.78,229.01 336.05,229.05 336.40,229.10 336.75,229.15 337.10,229.19 337.26,229.22 337.45,229.03 337.80,228.69 338.15,228.32 338.50,227.82 338.80,227.13 338.85,227.07 339.20,226.27 339.55,225.07 339.90,224.35 340.25,224.93 340.36,225.35 340.60,226.26 340.95,227.52 341.30,228.21 341.49,228.35 341.65,228.50 342.00,228.69 342.35,228.82 342.70,228.93 343.05,229.05 343.09,229.06 343.40,228.33 343.75,227.51 344.10,226.68 344.45,225.86 344.63,225.44 344.80,225.63 345.15,226.03 345.50,226.44 345.85,226.84 345.98,226.99 346.20,226.84 346.55,226.61 346.90,226.38 347.25,226.15 347.26,226.15 347.60,226.63 347.95,227.12 348.20,227.47 348.30,227.55 348.65,227.82 349.00,228.10 349.35,228.37 349.57,228.55 349.70,228.31 350.05,227.65 350.37,227.05 350.40,227.03 350.75,226.81 351.10,226.59 351.13,226.57 351.45,227.23 351.80,227.96 352.15,228.69 352.46,229.35 352.50,229.30 352.85,228.83 353.20,228.36 353.55,227.88 353.90,227.41 353.95,227.34 354.25,227.43 354.60,227.55 354.93,227.65 354.95,227.65 355.30,227.55 355.65,227.45 356.00,227.35 356.12,227.32 356.35,227.40 356.70,227.54 357.05,227.67 357.08,227.68 357.40,227.56 357.75,227.42 358.10,227.29 358.45,227.16 358.50,227.14 358.80,226.94 359.15,226.71 359.50,226.47 359.85,226.24 359.93,226.19 360.20,226.59 360.55,227.12 360.90,227.65 361.11,227.97 361.25,227.76 361.60,227.24 361.85,226.86 361.95,227.08 362.30,227.90 362.65,228.72 362.97,229.48 363.00,229.42 363.35,228.73 363.70,228.03 364.05,227.33 364.40,226.63 364.56,226.32 364.75,226.69 365.10,227.35 365.27,227.66 365.45,227.80 365.80,228.06 366.01,228.22 366.15,228.06 366.50,227.65 366.85,227.23 366.99,227.06 367.20,226.90 367.55,226.63 367.90,226.36 368.07,226.23 368.25,226.59 368.60,227.27 368.95,227.96 369.16,228.36 369.30,228.42 369.65,228.57 370.00,228.71 370.35,228.85 370.68,228.99 370.70,228.98 371.05,228.92 371.40,228.85 371.50,228.83 371.75,228.88 372.10,228.96 372.45,229.04 372.66,229.09 372.80,228.57 373.15,227.31 373.50,226.04 373.61,225.65 373.85,226.34 374.20,227.35 374.55,228.36 374.89,229.33 374.90,229.32 375.25,229.09 375.60,228.85 375.95,228.61 376.01,228.57 376.30,228.53 376.65,228.48 377.00,228.43 377.35,228.39 377.44,228.37 377.70,228.06 378.05,227.62 378.40,227.19 378.61,226.94 378.75,227.24 379.10,227.98 379.45,228.71 379.80,229.45 379.92,229.71 380.15,229.26 380.50,228.56 380.85,227.86 380.99,227.57 381.20,227.63 381.55,227.71 381.90,227.80 382.25,227.89 382.41,227.93 382.60,227.83 382.95,227.64 383.25,227.48 383.30,227.56 383.65,228.15 384.00,228.74 384.32,229.29 384.35,229.29 384.70,229.20 385.05,229.12 385.40,229.03 385.75,228.95 385.86,228.92 386.10,228.80 386.45,228.63 386.80,228.45 387.08,228.31 387.15,228.35 387.50,228.55 387.85,228.76 388.03,228.86 388.20,228.83 388.55,228.78 388.82,228.73 388.90,228.78 389.25,229.02 389.60,229.25 389.95,229.48 389.99,229.51 390.30,228.94 390.65,228.30 391.00,227.66 391.27,227.17 391.35,227.23 391.70,227.49 392.05,227.75 392.13,227.81 392.40,227.71 392.75,227.58 393.10,227.45 393.11,227.45 393.45,227.49 393.80,227.53 394.15,227.56 394.50,227.60 394.66,227.62 394.85,227.50 395.20,227.28 395.55,227.05 395.62,227.01 395.90,226.98 396.25,226.95 396.60,226.91 396.95,226.86 397.20,226.79 397.30,226.75 397.65,226.36 398.00,225.13 398.08,224.68 398.35,223.12 398.70,220.59 399.05,219.43 399.40,221.14 399.45,221.57 399.75,223.68 400.10,225.85 400.45,226.74 400.80,226.62 400.88,226.51 401.15,226.63 401.50,226.69 401.85,226.72 402.20,226.62 402.45,226.27 402.55,226.01 402.90,223.81 403.25,218.42 403.58,210.81 403.60,210.41 403.95,204.01 404.30,204.52 404.32,204.85 404.65,212.36 405.00,221.33 405.15,224.44 405.35,226.73 405.70,228.62 406.05,229.01 406.40,228.94 406.75,228.78 406.75,228.77 407.10,227.89 407.45,227.00 407.58,226.68 407.80,226.80 408.15,226.98 408.44,227.12 408.50,227.10 408.85,226.98 409.20,226.87 409.55,226.75 409.90,226.63 409.92,226.63 410.25,226.81 410.60,227.01 410.95,227.21 411.10,227.29 411.30,227.75 411.65,228.57 412.00,229.38 412.15,229.74 412.35,229.07 412.70,227.85 412.97,226.90 413.05,227.21 413.40,228.62 413.75,230.04 413.99,231.00 414.10,230.82 414.45,230.23 414.80,229.64 414.86,229.54 415.15,229.11 415.50,228.59 415.85,228.07 416.20,227.55 416.44,227.18 416.55,227.24 416.90,227.41 417.25,227.59 417.60,227.76 417.95,227.94 418.00,227.96 418.30,227.48 418.65,226.92 418.98,226.34 419.00,226.37 419.35,226.73 419.70,226.41 420.05,225.24 420.36,224.44 420.40,224.31 420.75,224.50 421.10,226.09 421.45,227.33 421.47,227.38 421.80,228.10 422.15,227.79 422.50,224.61 422.65,221.40 422.85,215.39 423.20,202.53 423.55,197.49 423.89,205.54 423.90,205.93 424.25,217.59 424.60,221.65 424.75,220.84 424.95,218.11 425.30,214.70 425.60,216.10 425.65,216.93 426.00,223.42 426.35,228.03 426.70,228.20 427.05,227.41 427.40,226.41 427.75,225.38 427.83,225.14 428.10,225.79 428.45,226.66 428.80,227.53 429.15,228.40 429.32,228.82 429.50,228.69 429.85,228.45 430.20,228.20 430.55,227.95 430.63,227.89 430.90,227.91 431.25,227.92 431.42,227.92 431.60,227.93 431.95,227.82 432.25,227.36 432.30,227.19 432.65,225.41 433.00,222.91 433.35,220.92 433.41,220.76 433.70,221.25 434.05,223.43 434.40,225.90 434.43,226.07 434.75,227.51 435.10,228.27 435.45,228.62 435.80,228.84 435.97,228.94 436.15,229.01 436.50,229.15 436.85,229.28 436.93,229.31 437.20,228.77 437.55,228.08 437.74,227.70 437.90,227.77 438.25,227.94 438.60,228.10 438.75,228.17 438.95,228.08 439.30,227.93 439.65,227.78 440.00,227.63 440.32,227.50 440.35,227.54 440.70,227.95 441.05,228.36 441.40,228.76 441.50,228.86 441.75,228.44 442.10,227.53 442.45,225.69 442.67,223.84 442.80,222.70 443.15,219.53 443.43,218.11 443.50,217.99 443.85,219.13 444.20,221.96 444.55,224.34 444.83,225.31 444.90,225.69 445.25,227.20 445.60,228.34 445.88,229.18 445.95,229.06 446.30,228.49 446.65,227.92 446.77,227.72 447.00,227.94 447.35,228.26 447.70,228.46 447.86,228.41 448.05,227.55 448.40,224.82 448.75,220.98 448.88,219.72 449.10,219.08 449.45,220.82 449.80,223.75 449.94,224.37 450.15,223.99 450.50,218.09 450.85,205.68 451.20,195.62 451.43,196.20 451.55,198.82 451.90,211.47 452.25,221.72 452.33,223.11 452.60,225.59 452.95,226.15 453.15,226.01 453.30,226.00 453.65,225.94 454.00,225.87 454.11,225.85 454.35,226.11 454.70,226.50 455.05,226.88 455.40,227.26 455.64,227.52 455.75,227.60 456.10,227.84 456.45,228.08 456.80,228.32 457.08,228.52 457.15,228.48 457.50,228.31 457.85,228.14 458.18,227.98 458.20,227.96 458.55,227.72 458.90,227.47 459.25,227.23 459.60,226.97 459.67,226.92 459.95,226.80 460.30,226.35 460.65,225.12 461.00,223.07 461.18,222.16 461.35,221.88 461.70,223.00 462.05,225.27 462.40,226.72 462.62,226.79 462.75,226.08 463.10,223.55 463.34,221.97 463.45,221.77 463.80,222.48 464.15,224.28 464.50,225.59 464.79,226.03 464.85,226.13 465.20,226.60 465.55,226.97 465.84,227.27 465.90,227.29 466.25,227.36 466.60,227.10 466.95,225.76 467.11,224.61 467.30,223.04 467.65,220.64 467.89,220.75 468.00,220.99 468.35,223.26 468.67,225.18 468.70,225.31 469.05,225.92 469.40,225.44 469.75,224.04 470.10,221.03 470.26,219.08 470.45,217.56 470.80,216.47 471.15,219.27 471.39,222.46 471.50,223.49 471.85,225.75 472.20,226.25 472.55,225.62 472.84,224.59 472.90,224.46 473.25,224.18 473.60,225.18 473.95,226.93 474.06,227.45 474.30,227.37 474.65,226.81 475.00,225.98 475.12,225.69 475.35,226.58 475.70,227.68 475.84,227.91 476.05,226.38 476.40,220.61 476.75,206.61 477.06,185.05 477.10,181.43 477.45,152.17 477.80,133.93 478.15,140.33 478.18,141.85 478.50,166.44 478.85,195.44 479.13,211.75 479.20,214.24 479.55,221.11 479.90,221.83 480.25,221.01 480.31,220.90 480.60,221.38 480.95,222.65 481.30,224.04 481.65,225.01 481.82,225.29 482.00,225.61 482.35,226.01 482.70,226.28 483.05,226.49 483.08,226.51 483.40,226.87 483.75,227.26 484.10,227.65 484.45,228.04 484.60,228.20 484.80,227.58 485.15,226.52 485.48,225.52 485.50,225.53 485.85,225.69 486.20,225.85 486.46,225.97 486.55,226.19 486.90,227.01 487.25,227.84 487.35,228.08 487.60,228.18 487.95,228.31 488.16,228.39 488.30,227.83 488.65,226.42 489.00,225.00 489.05,224.79 489.35,225.26 489.70,225.81 490.05,226.36 490.20,226.58 490.40,226.36 490.75,225.72 491.10,224.52 491.45,223.10 491.65,222.63 491.80,222.73 492.15,223.77 492.50,225.03 492.70,225.53 492.85,225.99 493.20,226.81 493.55,227.49 493.64,227.65 493.90,227.13 494.25,226.44 494.44,226.06 494.60,226.07 494.95,226.10 495.30,226.12 495.65,226.14 495.65,226.15 496.00,226.67 496.35,226.97 496.54,226.80 496.70,226.08 497.05,222.82 497.40,218.15 497.40,218.13 497.75,215.11 498.10,213.85 498.45,207.90 498.58,203.54 498.80,195.25 499.15,186.39 499.50,191.32 499.68,198.30 499.85,205.76 500.20,218.25 500.55,223.82 500.90,224.59 501.16,223.97 501.25,223.79 501.60,224.00 501.95,225.75 502.10,226.67 502.30,227.44 502.65,228.16 503.00,228.32 503.00,228.33 503.35,228.61 503.70,228.85 504.01,229.07 504.05,229.03 504.40,228.68 504.75,228.33 504.87,228.20 505.10,228.16 505.45,227.93 505.80,227.13 506.15,225.28 506.23,224.71 506.50,222.72 506.85,220.83 507.20,221.23 507.40,222.54 507.55,223.68 507.90,226.39 508.25,228.12 508.59,228.84 508.60,228.84 508.95,228.78 509.30,228.56 509.65,228.31 509.73,228.25 510.00,227.78 510.35,227.16 510.62,226.70 510.70,226.75 511.05,226.99 511.40,227.23 511.75,227.48 511.81,227.52 512.10,227.70 512.45,227.92 512.80,228.15 513.15,228.37 513.31,228.47 513.50,228.58 513.85,228.78 514.20,228.99 514.55,229.19 514.76,229.31 514.90,229.28 515.25,229.14 515.47,229.04 515.60,228.94 515.95,228.66 516.30,228.38 516.49,228.23 516.65,228.34 517.00,228.57 517.35,228.80 517.41,228.84 517.70,228.26 518.05,227.55 518.40,226.85 518.46,226.73 518.75,227.30 519.10,227.98 519.45,228.66 519.45,228.66 519.80,228.02 520.15,227.38 520.50,226.75 520.50,226.75 520.85,226.20 521.20,225.64 521.55,225.07 521.72,224.76 521.90,224.94 522.25,225.05 522.60,224.70 522.85,224.22 522.95,223.85 523.30,222.88 523.65,222.93 523.71,223.03 524.00,224.41 524.35,226.03 524.70,227.22 525.05,228.01 525.24,228.34 525.40,227.92 525.75,226.99 526.10,226.05 526.29,225.54 526.45,226.25 526.80,227.83 527.15,229.41 527.28,229.98 527.50,229.49 527.85,228.72 528.20,227.95 528.55,227.17 528.83,226.50 528.90,226.58 529.25,226.82 529.60,226.58 529.76,226.28 529.95,225.32 530.30,223.73 530.65,223.14 530.98,223.60 531.00,223.71 531.35,225.57 531.70,227.01 531.88,227.55 532.05,227.81 532.40,228.17 532.75,228.44 533.10,228.70 533.24,228.80 533.45,228.45 533.80,227.87 534.15,227.29 534.50,226.70 534.57,226.58 534.85,226.71 535.20,226.76 535.55,226.04 535.68,225.19 535.90,222.02 536.25,213.07 536.60,203.44 536.95,201.92 537.07,203.85 537.30,210.15 537.65,219.25 538.00,223.86 538.01,223.95 538.35,225.12 538.70,225.43 539.05,225.57 539.40,225.70 539.50,225.73 539.75,225.44 540.10,224.84 540.45,223.66 540.80,221.90 540.82,221.83 541.15,221.03 541.50,221.68 541.73,222.68 541.85,222.96 542.20,223.35 542.55,223.07 542.74,222.75 542.90,222.74 543.25,222.30 543.60,220.79 543.94,218.49 543.95,218.43 544.30,217.89 544.65,220.01 544.99,223.20 545.00,223.25 545.35,224.09 545.70,223.81 546.05,222.84 546.19,222.26 546.40,221.99 546.75,221.20 547.10,221.05 547.22,221.35 547.45,221.31 547.80,221.63 547.96,221.65 548.15,222.20 548.50,222.81 548.85,223.16 549.08,223.32 549.20,223.28 549.55,222.79 549.75,222.15 549.90,221.21 550.25,218.98 550.60,218.02 550.72,218.14 550.95,219.77 551.30,222.32 551.65,224.01 551.68,224.10 552.00,222.01 552.20,220.29 552.35,219.86 552.70,218.64 552.96,218.36 553.05,218.28 553.40,219.13 553.75,220.41 553.85,220.56 554.10,220.26 554.33,218.31 554.45,216.23 554.80,207.11 554.91,203.94 555.15,200.78 555.50,204.36 555.57,206.25 555.85,212.36 556.20,218.81 556.49,220.71 556.55,221.11 556.90,222.46 557.18,222.90 557.25,222.78 557.60,221.85 557.74,221.34 557.95,220.44 558.30,218.96 558.35,218.82 558.65,218.98 558.81,219.39 559.00,220.22 559.35,221.64 559.49,222.09 559.70,221.17 559.90,220.16 560.05,220.82 560.38,222.26 560.40,222.26 560.75,222.32 561.10,222.38 561.15,222.39 561.45,222.27 561.80,222.12 561.90,222.08 562.15,221.26 562.44,220.31 562.50,220.32 562.85,220.40 563.08,220.45 563.20,220.82 563.55,221.86 563.76,222.48 563.90,222.95 564.21,224.05 564.25,224.07 564.60,224.25 564.78,224.35 564.95,223.90 565.30,222.96 565.42,222.63 565.65,222.58 566.00,222.50 566.28,222.43 566.35,222.33 566.70,221.81 566.91,221.49 567.05,222.45 567.40,224.87 567.74,227.26 567.75,227.23 568.10,225.41 568.45,223.56 568.48,223.40 568.80,223.52 569.03,223.60 569.15,223.50 569.50,223.20 569.74,223.00 569.85,223.95 570.16,226.68 570.20,226.62 570.55,226.05 570.60,225.97 570.90,225.71 571.25,225.42 571.39,225.31 571.60,225.71 571.83,226.14 571.95,225.53 572.30,223.70 572.65,221.87 572.72,221.50 573.00,223.81 573.35,226.74 573.47,227.74 573.70,227.37 574.05,226.80 574.24,226.50 574.40,226.71 574.75,227.17 574.88,227.34 575.10,227.53 575.44,227.93 575.45,227.90 575.80,227.18 576.09,226.57 576.15,226.81 576.50,228.12 576.83,229.35 576.85,229.30 577.20,228.43 577.48,227.73 577.55,227.83 577.90,228.30 577.92,228.32 578.25,228.61 578.60,228.89 578.64,228.92 578.95,228.99 579.10,229.02 579.30,230.28 579.64,232.44 579.65,232.42 580.00,231.36 580.23,230.67 580.35,231.03 580.70,232.04 581.02,232.95 581.05,232.90 581.40,232.31 581.75,231.74 581.81,231.64 582.10,231.71 582.34,231.78 582.45,232.31 582.80,234.01 583.09,235.38 583.15,235.28 583.50,234.63 583.85,234.00 583.91,233.89 584.20,233.97 584.55,234.07 584.59,234.08 584.90,234.62 585.22,235.16 585.25,235.12 585.60,234.68 585.95,234.26 586.12,234.06 586.30,234.55 586.65,235.46 586.96,236.25 587.00,236.29 587.35,236.61 587.45,236.70 587.70,236.52 587.93,236.35 588.05,236.58 588.40,237.25 588.51,237.45 588.75,236.75 589.10,235.75 589.16,235.56 589.45,235.92 589.80,236.35 590.03,236.61 590.15,236.92 590.50,237.76 590.69,238.19 590.85,238.24 591.14,238.33 591.20,238.34 591.55,238.44 591.81,238.51 591.90,238.48 592.25,238.39 592.33,238.37 592.60,238.46 592.95,238.59 592.96,238.59 593.30,238.20 593.65,237.81 594.00,237.44 594.04,237.40 594.35,237.69 594.70,238.01 594.73,238.03 595.05,238.07 595.40,238.09 595.56,238.10 595.75,238.27 596.10,238.56 596.45,238.85 596.76,239.08 596.80,239.03 597.15,238.63 597.50,238.25 597.85,237.91 598.01,237.76 598.20,237.84 598.55,237.97 598.82,238.07 598.90,238.15 599.25,238.49 599.60,238.81 599.95,239.12 600.26,239.37 600.30,239.34 600.65,239.07 601.00,238.81 601.07,238.76 601.35,238.79 601.70,238.83 602.05,238.87 602.40,238.90 602.58,238.92 602.75,238.93 603.10,238.97 603.45,239.01 603.80,239.05 604.13,239.09 604.15,239.10 604.50,239.37 604.85,239.62 605.11,239.80 605.20,239.79 605.55,239.74 605.90,239.69 606.25,239.65 606.60,239.62 606.62,239.62 606.95,239.70 607.30,239.78 607.65,239.86 607.91,239.92 608.00,239.93 608.35,239.99 608.70,240.04 608.72,240.05 609.05,240.05 609.40,240.05 609.75,240.05 610.10,240.06 610.21,240.06 610.45,240.07 610.80,240.08 611.15,240.10 611.20,240.10 611.50,240.17 611.85,240.23 612.20,240.27 612.39,240.28 612.55,240.28 612.90,240.29 613.25,240.30 613.35,240.30 613.60,240.31 613.95,240.33"/>
<polyline id="tB" points="42.30,496.50 42.50,470.00 42.80,495.00 43.00,450.00 43.20,480.00 43.40,436.00 43.80,425.00 44.50,416.10 45.40,447.40 46.20,425.00 46.90,411.40 47.60,430.00 48.30,450.20 48.80,439.80 49.40,446.00 50.50,420.90 51.10,432.00 51.70,428.40 52.40,442.00 53.00,451.20 53.20,453.23 53.55,457.03 53.90,460.81 54.10,462.25 54.25,462.88 54.60,464.32 54.82,465.19 54.95,465.84 55.30,466.36 55.33,466.37 55.65,465.84 55.88,465.37 56.00,465.07 56.35,465.22 56.45,465.50 56.70,466.92 57.05,468.86 57.40,470.26 57.54,470.74 57.75,471.14 58.10,471.71 58.45,472.27 58.64,472.57 58.80,472.69 59.15,472.79 59.31,472.83 59.50,473.91 59.85,475.97 60.00,476.84 60.20,477.03 60.55,477.35 60.85,477.63 60.90,477.53 61.25,476.79 61.60,475.93 61.69,475.64 61.95,477.09 62.30,479.05 62.31,479.11 62.65,479.13 63.00,479.16 63.00,479.16 63.35,479.65 63.68,480.10 63.70,480.09 64.05,479.90 64.32,479.76 64.40,479.83 64.75,480.15 65.10,480.48 65.36,480.70 65.45,480.56 65.80,480.03 66.15,479.49 66.47,478.99 66.50,479.00 66.85,479.08 67.20,479.16 67.44,479.22 67.55,479.58 67.90,480.72 67.95,480.88 68.25,481.15 68.60,481.47 68.80,481.65 68.95,481.53 69.30,481.21 69.65,480.88 69.73,480.81 70.00,481.08 70.35,481.37 70.51,481.45 70.70,481.23 71.05,480.27 71.30,479.13 71.40,478.54 71.75,477.20 72.10,477.64 72.23,478.14 72.45,478.99 72.80,479.82 73.15,479.89 73.23,479.84 73.50,479.66 73.85,479.36 74.15,479.10 74.20,479.01 74.55,478.41 74.74,478.08 74.90,478.31 75.25,478.80 75.60,479.30 75.72,479.46 75.95,480.61 76.30,482.34 76.45,483.09 76.65,482.51 77.00,481.48 77.23,480.81 77.35,480.93 77.70,481.28 78.05,481.63 78.23,481.82 78.40,481.46 78.75,480.73 78.98,480.24 79.10,480.18 79.45,479.97 79.80,479.77 80.08,479.61 80.15,479.64 80.50,479.79 80.71,479.88 80.85,479.77 81.20,479.48 81.55,479.19 81.57,479.17 81.90,479.68 82.25,480.22 82.33,480.34 82.60,480.60 82.95,480.93 83.30,481.26 83.42,481.37 83.65,481.52 84.00,481.75 84.30,481.95 84.35,481.94 84.70,481.85 85.05,481.77 85.35,481.72 85.40,481.66 85.75,481.27 86.10,480.87 86.35,480.60 86.45,480.83 86.80,481.64 86.90,481.88 87.15,481.06 87.44,480.13 87.50,479.94 87.85,478.97 88.14,478.16 88.20,478.34 88.55,479.39 88.72,479.92 88.90,480.78 89.23,482.40 89.25,482.34 89.60,481.20 89.81,480.50 89.95,480.44 90.30,480.28 90.53,480.17 90.65,480.29 91.00,480.66 91.35,481.04 91.65,481.35 91.70,481.25 92.05,480.48 92.19,480.09 92.40,480.54 92.75,480.56 92.85,480.37 93.10,479.02 93.35,478.02 93.45,477.65 93.80,477.85 93.94,478.40 94.15,480.06 94.50,482.16 94.76,483.06 94.85,482.93 95.20,482.24 95.55,481.44 95.69,481.12 95.90,481.71 96.25,482.69 96.28,482.78 96.60,482.37 96.95,481.90 97.26,481.49 97.30,481.57 97.65,482.32 98.00,483.08 98.27,483.65 98.35,483.62 98.70,483.47 99.05,483.32 99.26,483.23 99.40,483.04 99.75,482.55 99.90,482.35 100.10,481.74 100.40,480.82 100.45,480.96 100.80,482.09 101.06,482.92 101.15,483.01 101.50,483.37 101.83,483.70 101.85,483.67 102.20,483.09 102.55,482.52 102.90,481.94 102.92,481.91 103.25,481.64 103.55,481.39 103.60,481.50 103.95,482.39 104.30,483.27 104.44,483.62 104.65,483.41 105.00,483.07 105.23,482.85 105.35,482.85 105.70,482.87 105.77,482.88 106.05,482.96 106.40,483.07 106.75,483.17 106.75,483.17 107.10,483.25 107.36,483.30 107.45,483.36 107.80,483.57 108.15,483.77 108.35,483.89 108.50,483.88 108.85,483.85 109.09,483.82 109.20,483.37 109.55,481.86 109.69,481.25 109.90,481.67 110.25,482.38 110.60,483.09 110.75,483.40 110.95,483.51 111.30,483.71 111.65,483.90 111.76,483.96 112.00,483.51 112.35,482.85 112.47,482.61 112.70,483.22 112.97,483.95 113.05,483.94 113.40,483.89 113.75,483.85 113.80,483.84 114.10,483.75 114.45,483.64 114.80,483.53 114.83,483.52 115.15,482.70 115.48,481.84 115.50,481.84 115.85,481.80 116.20,481.76 116.34,481.74 116.55,482.49 116.90,483.75 116.91,483.81 117.25,483.37 117.60,482.91 117.69,482.78 117.95,483.15 118.30,483.64 118.45,483.85 118.65,483.57 119.00,483.08 119.27,482.70 119.35,482.47 119.70,481.45 120.04,480.45 120.05,480.46 120.40,480.84 120.75,481.22 121.03,481.53 121.10,481.61 121.45,482.07 121.80,482.52 121.98,482.75 122.15,482.75 122.50,482.76 122.80,482.76 122.85,482.76 123.20,482.78 123.35,482.78 123.55,482.98 123.90,483.34 124.02,483.46 124.25,483.45 124.60,483.44 124.86,483.43 124.95,483.38 125.30,483.17 125.63,482.98 125.65,482.98 126.00,483.10 126.35,483.21 126.44,483.24 126.70,483.03 127.05,482.75 127.27,482.57 127.40,482.75 127.75,483.23 128.10,483.71 128.20,483.84 128.45,483.47 128.80,482.93 128.85,482.85 129.15,482.47 129.50,482.01 129.85,481.56 129.87,481.52 130.20,481.44 130.55,481.35 130.64,481.33 130.90,482.24 131.18,483.23 131.25,483.12 131.60,482.58 131.95,482.04 132.23,481.61 132.30,481.61 132.65,481.60 133.00,481.59 133.14,481.58 133.35,481.63 133.70,481.71 134.05,481.80 134.24,481.84 134.40,482.03 134.75,482.43 134.98,482.70 135.10,482.58 135.45,482.22 135.80,481.87 135.99,481.68 136.15,481.79 136.50,482.03 136.81,482.25 136.85,482.37 137.20,483.38 137.50,484.25 137.55,484.14 137.90,483.36 138.25,482.58 138.34,482.38 138.60,482.68 138.95,483.08 139.04,483.18 139.30,483.75 139.57,484.33 139.65,484.13 140.00,483.24 140.35,482.35 140.67,481.54 140.70,481.66 141.05,483.10 141.19,483.66 141.40,483.20 141.75,482.35 141.76,482.33 142.10,481.67 142.45,480.49 142.76,479.19 142.80,479.10 143.15,478.71 143.50,479.44 143.83,480.87 143.85,480.89 144.20,480.96 144.38,480.81 144.55,481.06 144.90,481.30 145.14,481.36 145.25,481.80 145.60,483.13 145.95,484.45 146.03,484.73 146.30,483.83 146.65,482.67 147.00,481.52 147.06,481.34 147.35,481.66 147.70,482.05 147.83,482.19 148.05,482.14 148.40,482.06 148.75,481.99 148.91,481.95 149.10,481.71 149.45,481.28 149.73,480.93 149.80,480.97 150.15,481.15 150.32,481.24 150.50,481.45 150.85,481.86 151.00,482.04 151.20,482.22 151.55,482.54 151.68,482.65 151.90,482.17 152.25,481.41 152.39,481.12 152.60,482.08 152.89,483.38 152.95,483.29 153.30,482.82 153.50,482.55 153.65,482.85 154.00,483.53 154.05,483.63 154.35,483.59 154.70,483.31 154.85,482.99 155.05,482.23 155.40,480.38 155.66,479.25 155.75,479.17 156.10,480.05 156.37,481.50 156.45,481.77 156.80,482.43 157.15,482.34 157.26,482.22 157.50,481.27 157.78,480.11 157.85,480.22 158.20,480.84 158.55,481.45 158.74,481.79 158.90,482.33 159.25,483.53 159.28,483.64 159.60,483.03 159.95,482.34 160.20,481.85 160.30,481.94 160.65,482.23 160.87,482.41 161.00,482.30 161.35,482.02 161.64,481.78 161.70,481.82 162.05,482.10 162.40,482.39 162.75,482.66 162.75,482.65 163.10,482.34 163.45,481.73 163.80,480.43 163.84,480.21 164.15,478.91 164.33,478.34 164.50,478.00 164.85,478.62 165.14,479.78 165.20,479.96 165.55,480.57 165.63,480.60 165.90,480.29 166.25,479.65 166.38,479.40 166.60,480.13 166.95,481.26 167.06,481.61 167.30,482.09 167.65,482.79 167.88,483.25 168.00,483.30 168.35,483.45 168.70,483.60 168.82,483.65 169.05,483.75 169.40,483.92 169.52,483.98 169.75,483.83 170.10,483.61 170.45,483.39 170.46,483.38 170.80,483.47 171.15,483.57 171.48,483.66 171.50,483.65 171.85,483.55 172.20,483.45 172.43,483.39 172.55,483.24 172.90,482.74 173.25,481.88 173.25,481.88 173.60,480.73 173.95,478.26 174.25,476.47 174.30,476.26 174.65,476.82 175.00,479.54 175.30,481.51 175.35,481.59 175.70,481.38 175.94,480.79 176.05,480.86 176.40,481.00 176.65,481.08 176.75,481.27 177.10,481.96 177.45,482.65 177.50,482.74 177.80,482.58 178.15,482.39 178.41,482.25 178.50,482.32 178.85,482.62 179.20,482.92 179.41,483.10 179.55,483.15 179.90,483.26 180.23,483.35 180.25,483.31 180.60,482.28 180.95,481.26 181.19,480.56 181.30,480.96 181.65,482.21 181.84,482.91 182.00,483.02 182.35,483.22 182.70,483.17 182.80,483.04 183.05,481.66 183.40,478.63 183.53,477.19 183.75,475.35 184.10,473.42 184.45,474.17 184.51,474.54 184.80,476.13 185.04,477.53 185.15,478.34 185.50,480.20 185.85,481.01 186.00,481.18 186.20,480.92 186.50,480.46 186.55,480.57 186.90,481.32 187.25,482.08 187.41,482.43 187.60,482.26 187.95,481.94 188.09,481.82 188.30,481.46 188.65,480.87 188.87,480.50 189.00,481.06 189.35,482.60 189.49,483.20 189.70,482.48 189.99,481.49 190.05,481.48 190.40,481.21 190.75,479.98 191.09,476.61 191.10,476.48 191.45,471.96 191.71,469.94 191.80,469.45 192.15,471.25 192.50,475.56 192.57,476.23 192.85,478.76 193.20,479.52 193.55,478.44 193.66,477.83 193.90,476.97 194.25,476.52 194.47,477.42 194.60,478.02 194.95,480.24 195.10,481.07 195.30,480.71 195.61,479.51 195.65,479.59 196.00,480.10 196.35,480.32 196.38,480.31 196.70,479.16 197.05,474.29 197.09,473.31 197.40,461.70 197.58,450.82 197.75,438.07 198.10,412.54 198.15,410.07 198.45,402.94 198.80,417.62 199.15,443.24 199.20,446.81 199.50,461.51 199.85,459.94 199.94,455.73 200.20,434.32 200.55,395.10 200.66,384.06 200.90,368.14 201.18,370.96 201.25,375.74 201.60,412.37 201.85,440.51 201.95,449.60 202.30,470.43 202.51,475.99 202.65,478.54 203.00,481.36 203.23,482.12 203.35,482.05 203.70,481.71 204.05,481.25 204.23,480.88 204.40,480.45 204.75,477.96 205.10,471.95 205.31,467.18 205.45,464.78 205.80,463.36 205.84,463.71 206.15,469.02 206.50,476.02 206.80,479.37 206.85,479.77 207.20,481.36 207.32,481.57 207.55,480.70 207.90,478.43 208.11,476.61 208.25,476.00 208.60,475.54 208.95,477.44 209.06,478.40 209.30,479.30 209.65,479.87 209.97,479.55 210.00,479.54 210.35,479.35 210.70,478.89 210.71,478.88 211.05,479.42 211.33,478.98 211.40,478.37 211.75,473.28 211.96,467.87 212.10,462.13 212.45,441.49 212.73,416.99 212.80,409.96 213.15,369.22 213.28,352.96 213.50,324.57 213.85,286.70 213.92,281.22 214.20,267.26 214.55,272.48 214.90,300.33 214.97,307.43 215.25,340.84 215.60,382.83 215.72,395.55 215.95,417.33 216.30,440.92 216.42,446.62 216.65,455.28 217.00,463.28 217.35,467.72 217.52,469.24 217.70,471.05 218.05,474.18 218.40,476.95 218.41,476.99 218.75,477.41 219.07,477.45 219.10,477.63 219.45,479.37 219.80,480.83 219.84,480.97 220.15,479.77 220.50,478.30 220.85,476.77 220.88,476.65 221.20,478.21 221.55,479.89 221.81,481.16 221.90,480.87 222.25,479.70 222.60,478.52 222.68,478.27 222.95,478.95 223.30,479.80 223.65,480.66 223.75,480.90 224.00,480.28 224.35,479.40 224.70,478.52 224.85,478.14 225.05,478.74 225.40,479.79 225.44,479.90 225.75,480.08 226.10,480.28 226.45,480.49 226.52,480.53 226.80,480.28 227.15,479.97 227.49,479.66 227.50,479.67 227.85,480.32 228.01,480.53 228.20,480.13 228.55,478.12 228.90,473.37 229.08,470.25 229.25,467.27 229.60,465.09 229.65,465.32 229.95,468.86 230.30,473.71 230.58,475.74 230.65,476.37 231.00,478.45 231.35,479.81 231.40,479.99 231.70,480.19 232.03,480.41 232.05,480.38 232.40,479.96 232.71,479.59 232.75,479.65 233.10,480.17 233.45,480.70 233.61,480.93 233.80,480.31 234.15,479.18 234.24,478.88 234.50,478.74 234.85,478.55 235.18,478.37 235.20,478.42 235.55,479.23 235.90,480.03 235.98,480.22 236.25,480.21 236.60,480.19 236.63,480.19 236.95,479.17 237.27,478.14 237.30,478.23 237.65,479.19 238.00,480.16 238.02,480.22 238.35,480.27 238.70,480.33 239.01,480.38 239.05,480.43 239.40,480.84 239.63,481.12 239.75,480.84 240.10,480.00 240.45,479.17 240.64,478.72 240.80,478.75 241.15,478.82 241.50,478.89 241.61,478.91 241.85,478.80 242.20,478.65 242.41,478.55 242.55,478.83 242.90,479.54 243.16,480.08 243.25,479.95 243.60,479.42 243.75,479.19 243.95,478.81 244.30,478.14 244.65,477.47 244.85,477.10 245.00,477.68 245.35,479.06 245.38,479.17 245.70,479.50 246.05,479.86 246.40,480.22 246.42,480.24 246.75,479.77 247.10,478.97 247.45,477.51 247.50,477.25 247.80,476.64 248.15,476.80 248.50,478.47 248.58,478.98 248.85,479.45 249.20,479.49 249.49,479.07 249.55,478.94 249.90,478.05 250.19,477.28 250.25,477.43 250.60,478.18 250.85,478.46 250.95,478.54 251.30,477.95 251.42,477.31 251.65,474.50 252.00,468.70 252.14,466.30 252.35,462.46 252.70,459.00 252.90,459.14 253.05,461.26 253.40,468.07 253.62,472.68 253.75,474.75 254.10,479.15 254.34,481.03 254.45,481.18 254.80,481.05 255.09,480.55 255.15,480.11 255.50,477.32 255.61,476.46 255.85,476.99 256.20,477.77 256.55,478.55 256.68,478.84 256.90,478.89 257.25,478.98 257.60,479.04 257.73,479.04 257.95,479.08 258.30,478.58 258.65,476.16 258.83,473.47 259.00,469.19 259.35,455.70 259.70,437.74 259.77,434.24 260.05,423.81 260.26,420.82 260.40,421.67 260.75,433.09 261.10,451.45 261.15,454.14 261.45,465.73 261.79,473.36 261.80,473.58 262.15,477.69 262.50,478.99 262.85,479.25 262.88,479.26 263.20,479.46 263.55,479.64 263.64,479.68 263.90,480.11 264.25,480.68 264.25,480.68 264.60,480.62 264.95,480.47 265.25,480.10 265.30,479.92 265.65,478.00 265.95,475.22 266.00,474.68 266.35,469.71 266.70,463.00 266.93,458.43 267.05,456.44 267.40,452.76 267.75,453.66 267.90,455.36 268.10,459.43 268.41,466.48 268.45,467.30 268.80,473.46 269.15,477.59 269.50,479.87 269.52,479.94 269.85,478.60 270.17,476.85 270.20,476.98 270.55,478.58 270.90,480.12 270.98,480.46 271.25,480.06 271.60,479.54 271.62,479.52 271.95,479.92 272.30,480.33 272.53,480.60 272.65,480.34 273.00,479.56 273.35,478.78 273.44,478.59 273.70,479.15 274.05,479.90 274.11,480.04 274.40,479.68 274.75,479.25 275.07,478.86 275.10,478.85 275.45,478.77 275.71,478.71 275.80,478.77 276.15,479.01 276.50,479.24 276.57,479.28 276.85,479.44 277.20,479.62 277.55,479.81 277.68,479.88 277.90,479.99 278.25,480.16 278.60,480.33 278.68,480.37 278.95,480.09 279.24,479.80 279.30,479.98 279.65,480.98 280.00,481.98 280.25,482.71 280.35,482.14 280.70,480.04 280.93,478.66 281.05,478.83 281.40,479.31 281.75,479.79 282.03,480.16 282.10,480.24 282.45,480.53 282.76,480.22 282.80,480.00 283.15,476.02 283.41,468.22 283.50,464.05 283.85,438.01 283.97,425.92 284.20,399.49 284.55,365.11 284.60,362.25 284.90,357.54 285.21,378.50 285.25,382.08 285.60,420.57 285.95,451.40 286.11,460.42 286.30,467.81 286.65,474.75 286.81,476.52 287.00,477.16 287.35,477.97 287.50,478.13 287.70,478.10 288.05,477.60 288.33,476.99 288.40,477.28 288.75,478.78 289.07,480.15 289.10,480.09 289.45,479.29 289.62,478.90 289.80,479.00 290.15,479.19 290.37,479.31 290.50,479.32 290.85,479.36 291.20,479.40 291.46,479.43 291.55,479.48 291.90,479.65 292.17,479.79 292.25,479.78 292.60,479.74 292.95,479.69 293.29,479.65 293.30,479.64 293.65,479.06 294.00,478.49 294.24,478.10 294.35,478.29 294.70,478.88 295.05,479.46 295.30,479.81 295.40,479.96 295.75,480.16 296.04,479.58 296.10,478.95 296.45,473.83 296.64,470.16 296.80,468.07 297.15,463.40 297.50,461.27 297.53,461.31 297.85,461.38 298.20,465.48 298.41,468.67 298.55,471.07 298.90,475.71 298.99,476.54 299.25,478.05 299.60,478.66 299.95,477.32 300.07,476.01 300.30,471.45 300.65,453.76 301.00,422.89 301.06,417.05 301.35,396.22 301.63,395.50 301.70,398.39 302.05,426.39 302.40,455.72 302.43,457.44 302.75,473.42 303.10,480.17 303.16,480.76 303.45,480.85 303.80,480.17 304.15,479.35 304.17,479.30 304.50,479.73 304.80,480.12 304.85,480.08 305.20,479.84 305.55,479.61 305.81,479.43 305.90,479.56 306.25,480.08 306.56,480.54 306.60,480.47 306.95,479.93 307.12,479.67 307.30,479.56 307.65,479.35 308.00,479.14 308.18,479.03 308.35,479.03 308.70,479.04 309.05,479.05 309.14,479.05 309.40,479.88 309.71,480.89 309.75,480.85 310.10,480.48 310.45,480.08 310.59,479.89 310.80,479.85 311.15,479.35 311.45,478.33 311.50,478.10 311.85,476.73 312.20,476.78 312.22,476.84 312.55,478.33 312.90,479.76 313.10,480.17 313.25,480.31 313.60,479.74 313.95,477.71 314.07,476.80 314.30,474.83 314.65,473.97 314.68,474.04 315.00,476.18 315.25,478.00 315.35,478.70 315.70,480.19 316.02,480.70 316.05,480.64 316.40,479.75 316.75,477.73 316.91,476.28 317.10,474.73 317.45,472.39 317.80,473.19 317.89,473.93 318.15,476.26 318.50,478.92 318.69,479.69 318.85,480.50 319.20,481.77 319.27,481.98 319.55,481.97 319.90,481.94 320.22,481.90 320.25,481.87 320.60,481.55 320.95,481.23 321.30,480.91 321.33,480.88 321.65,480.57 322.00,480.23 322.35,479.89 322.40,479.84 322.70,479.76 323.05,479.67 323.40,479.57 323.47,479.55 323.75,479.64 324.10,479.76 324.44,479.88 324.45,479.91 324.80,481.06 325.10,482.04 325.15,482.07 325.50,482.22 325.85,482.38 325.91,482.41 326.20,481.82 326.55,481.11 326.56,481.08 326.90,480.40 327.08,480.03 327.25,480.30 327.60,480.83 327.95,481.37 328.16,481.69 328.30,482.02 328.65,482.83 328.75,483.07 329.00,482.63 329.35,482.00 329.58,481.59 329.70,481.56 330.05,481.48 330.40,481.40 330.62,481.35 330.75,481.17 331.10,480.69 331.45,480.21 331.67,479.91 331.80,480.06 332.15,480.44 332.50,480.83 332.55,480.88 332.85,481.78 333.20,482.83 333.21,482.85 333.55,482.51 333.90,482.16 333.93,482.13 334.25,482.58 334.53,482.95 334.60,482.77 334.95,481.84 335.30,480.56 335.53,479.21 335.65,478.73 336.00,476.74 336.35,475.52 336.64,476.43 336.70,476.44 337.05,476.92 337.33,476.88 337.40,477.58 337.75,480.50 337.91,481.66 338.10,481.92 338.45,482.33 338.73,482.65 338.80,482.62 339.15,482.50 339.36,482.42 339.50,481.84 339.85,480.39 339.85,480.38 340.20,480.43 340.55,480.48 340.57,480.48 340.90,480.46 341.25,480.44 341.43,480.43 341.60,480.38 341.95,480.29 342.22,480.22 342.30,480.06 342.65,479.41 342.86,479.01 343.00,479.58 343.35,481.01 343.70,482.43 343.75,482.65 344.05,481.52 344.40,480.19 344.50,479.83 344.75,480.35 345.10,481.06 345.39,481.66 345.45,481.64 345.80,481.49 346.15,481.29 346.29,481.16 346.50,480.73 346.85,478.88 347.20,474.66 347.24,474.03 347.55,470.28 347.76,469.24 347.90,469.11 348.25,472.15 348.40,474.01 348.60,477.27 348.90,480.56 348.95,480.70 349.30,480.75 349.48,480.49 349.65,480.84 350.00,481.48 350.29,482.00 350.35,481.88 350.70,481.25 350.89,480.92 351.05,481.52 351.40,482.81 351.41,482.83 351.75,481.78 352.10,480.70 352.35,479.95 352.45,480.11 352.80,480.67 353.15,481.22 353.31,481.47 353.50,481.03 353.85,480.23 354.08,479.71 354.20,479.78 354.55,479.99 354.72,480.09 354.90,480.50 355.25,481.29 355.60,482.08 355.68,482.26 355.95,481.86 356.30,481.34 356.62,480.87 356.65,480.94 357.00,481.73 357.35,482.52 357.38,482.59 357.70,482.36 358.04,482.12 358.05,482.15 358.40,483.36 358.67,484.28 358.75,483.84 359.10,481.98 359.32,480.81 359.45,481.01 359.80,481.55 360.15,482.10 360.41,482.50 360.50,482.38 360.85,481.92 361.20,481.47 361.45,481.14 361.55,481.24 361.90,481.57 362.25,481.90 362.51,482.15 362.60,482.26 362.95,482.71 363.30,483.15 363.42,483.31 363.65,483.11 364.00,482.79 364.35,482.48 364.44,482.40 364.70,482.44 365.05,482.48 365.21,482.50 365.40,482.03 365.75,481.17 365.89,480.83 366.10,481.73 366.43,483.13 366.45,483.02 366.80,481.20 366.94,480.50 367.15,480.15 367.50,479.57 367.64,479.33 367.85,480.58 368.16,482.44 368.20,482.49 368.55,482.87 368.90,483.25 369.09,483.46 369.25,483.07 369.60,482.23 369.95,481.39 370.30,482.49 370.65,483.59 370.96,484.55 371.00,484.50 371.35,484.05 371.70,483.61 371.99,483.23 372.05,482.89 372.40,480.76 372.55,479.85 372.75,481.08 373.06,483.03 373.10,483.03 373.45,483.00 373.80,482.98 373.95,482.97 374.15,481.84 374.50,479.85 374.62,479.15 374.85,479.57 375.20,480.22 375.55,480.88 375.59,480.95 375.90,480.71 376.25,480.44 376.35,480.36 376.60,481.23 376.95,482.43 377.01,482.65 377.30,483.00 377.65,483.41 377.71,483.48 378.00,483.29 378.35,483.05 378.70,482.81 378.73,482.79 379.05,482.36 379.40,481.89 379.48,481.78 379.75,482.11 380.10,482.55 380.19,482.67 380.45,483.43 380.80,484.45 380.82,484.51 381.15,482.94 381.50,481.28 381.82,479.74 381.85,479.87 382.20,481.65 382.44,482.89 382.55,482.70 382.90,482.07 382.94,482.01 383.25,481.69 383.60,481.34 383.93,481.01 383.95,481.08 384.30,482.14 384.64,483.16 384.65,483.13 385.00,482.56 385.35,481.98 385.70,481.40 385.72,481.37 386.05,481.59 386.40,481.68 386.65,481.45 386.75,481.04 387.10,479.09 387.45,477.23 387.54,476.94 387.80,477.86 388.15,480.18 388.47,482.23 388.50,482.26 388.85,482.23 389.19,481.78 389.20,481.77 389.55,481.45 389.90,481.11 390.24,480.79 390.25,480.80 390.60,481.08 390.74,481.19 390.95,481.38 391.30,481.71 391.65,482.04 391.80,482.18 392.00,482.01 392.35,481.72 392.70,481.42 392.85,481.27 393.05,481.62 393.40,481.92 393.67,481.62 393.75,481.13 394.10,478.20 394.45,474.87 394.57,473.99 394.80,474.04 395.15,476.32 395.16,476.39 395.50,478.35 395.85,479.96 396.11,480.40 396.20,480.72 396.55,481.64 396.90,482.23 397.09,482.50 397.25,482.68 397.60,482.92 397.87,482.62 397.95,482.04 398.30,477.86 398.48,474.36 398.65,470.88 399.00,462.73 399.35,458.01 399.50,458.22 399.70,460.77 400.05,468.67 400.15,471.05 400.40,475.75 400.74,479.03 400.75,479.07 401.10,479.58 401.45,478.63 401.80,478.89 401.85,479.09 402.15,479.75 402.50,480.76 402.85,480.76 402.94,480.57 403.20,480.83 403.55,480.22 403.90,479.03 404.05,478.77 404.25,478.09 404.60,478.45 404.82,479.11 404.95,479.79 405.30,480.93 405.37,481.05 405.65,481.63 405.89,481.98 406.00,482.03 406.35,482.16 406.70,482.29 406.81,482.33 407.05,481.97 407.40,481.44 407.59,481.15 407.75,481.56 408.10,482.50 408.34,483.13 408.45,483.05 408.80,482.80 409.10,482.59 409.15,482.51 409.50,481.98 409.85,481.45 409.86,481.45 410.20,482.04 410.55,482.65 410.90,483.25 411.25,483.15 411.60,483.04 411.93,482.95 411.95,482.91 412.30,482.37 412.65,481.81 412.70,481.73 413.00,481.84 413.25,481.74 413.35,481.61 413.70,480.24 414.05,477.44 414.19,476.27 414.40,474.93 414.75,475.43 414.95,476.98 415.10,478.54 415.45,481.41 415.70,482.50 415.80,482.66 416.15,482.75 416.30,482.59 416.50,481.95 416.85,479.19 417.04,476.51 417.20,473.92 417.55,469.16 417.55,469.13 417.90,470.08 418.25,475.82 418.54,480.37 418.60,480.93 418.95,482.32 419.09,482.34 419.30,482.50 419.65,482.50 420.00,482.44 420.03,482.43 420.35,482.44 420.70,482.45 421.04,482.47 421.05,482.46 421.40,482.13 421.75,481.80 422.10,481.47 422.13,481.44 422.45,482.23 422.80,483.10 422.87,483.27 423.15,482.80 423.50,482.21 423.85,481.62 423.98,481.40 424.20,481.51 424.55,481.67 424.64,481.71 424.90,481.86 425.25,482.07 425.39,482.15 425.60,482.00 425.95,481.75 426.11,481.64 426.30,482.09 426.65,482.90 427.00,483.65 427.06,483.76 427.35,483.22 427.69,481.91 427.70,481.84 428.05,478.91 428.31,477.13 428.40,477.21 428.75,478.70 429.10,480.97 429.31,482.10 429.45,482.20 429.80,482.02 430.15,481.53 430.16,481.52 430.50,482.18 430.85,482.86 430.87,482.90 431.20,482.71 431.55,482.52 431.88,482.34 431.90,482.30 432.25,481.83 432.60,481.35 432.71,481.20 432.95,482.01 433.30,483.19 433.43,483.61 433.65,483.00 434.00,482.05 434.15,481.63 434.35,481.36 434.70,480.88 434.76,480.80 435.05,481.16 435.40,481.58 435.43,481.61 435.75,481.86 436.10,482.13 436.22,482.22 436.45,482.17 436.80,482.09 437.12,482.01 437.15,481.98 437.50,481.61 437.85,481.08 438.15,480.19 438.20,480.14 438.55,479.25 438.90,478.21 439.21,478.66 439.25,478.76 439.60,480.46 439.95,482.26 440.23,483.02 440.30,483.22 440.65,483.86 440.72,483.96 441.00,482.77 441.35,481.25 441.37,481.16 441.70,482.32 442.01,483.40 442.05,483.43 442.40,483.69 442.59,483.83 442.75,483.82 443.10,483.80 443.19,483.79 443.45,483.60 443.80,483.33 444.15,483.07 444.17,483.05 444.50,483.16 444.85,482.74 445.16,480.55 445.20,479.94 445.55,471.64 445.90,460.34 446.08,456.40 446.25,456.09 446.60,463.87 446.85,472.27 446.95,474.74 447.30,479.94 447.51,480.78 447.65,481.16 448.00,481.27 448.31,481.08 448.35,481.19 448.70,482.06 448.89,482.54 449.05,483.03 449.40,484.12 449.72,485.11 449.75,485.03 450.10,484.13 450.45,483.23 450.74,482.49 450.80,482.57 451.15,483.06 451.50,483.54 451.65,483.74 451.85,484.30 452.20,485.28 452.40,485.84 452.55,485.47 452.90,484.58 453.25,483.70 453.29,483.59 453.60,483.47 453.95,483.34 454.17,483.26 454.30,483.45 454.65,483.96 454.87,484.27 455.00,484.47 455.35,484.99 455.66,485.46 455.70,485.36 456.05,484.49 456.40,483.59 456.60,483.01 456.75,482.77 457.10,481.73 457.45,479.73 457.64,478.49 457.80,478.00 458.15,478.42 458.46,480.39 458.50,480.58 458.85,481.88 459.20,482.22 459.22,482.22 459.55,482.20 459.90,481.58 460.23,479.92 460.25,479.82 460.60,477.36 460.95,475.82 460.98,475.82 461.30,477.59 461.65,481.10 461.79,482.34 462.00,482.96 462.35,482.94 462.70,482.17 462.77,481.92 463.05,481.59 463.40,480.10 463.45,479.79 463.75,477.24 464.10,476.01 464.44,477.19 464.45,477.30 464.80,480.26 465.15,482.13 465.49,483.01 465.50,482.97 465.85,481.60 466.17,479.45 466.20,479.31 466.55,477.22 466.90,475.67 467.24,476.90 467.25,477.01 467.60,480.17 467.95,482.81 468.22,483.90 468.30,483.93 468.65,483.77 469.00,483.43 469.10,483.32 469.35,483.37 469.70,483.39 469.97,483.24 470.05,483.04 470.40,481.34 470.75,476.60 470.88,473.54 471.10,465.14 471.43,446.90 471.45,445.83 471.80,425.47 472.15,411.98 472.41,412.16 472.50,414.17 472.85,430.48 473.13,447.76 473.20,451.66 473.55,466.83 473.90,472.03 473.98,471.96 474.25,470.42 474.60,468.83 474.73,469.47 474.95,472.90 475.30,479.76 475.62,484.44 475.65,484.41 476.00,483.02 476.35,480.67 476.47,479.78 476.70,480.59 477.05,481.81 477.40,483.04 477.47,483.29 477.75,482.62 478.10,481.78 478.24,481.43 478.45,482.17 478.80,483.43 479.11,484.53 479.15,484.42 479.50,483.50 479.85,482.59 479.90,482.47 480.20,482.36 480.55,482.23 480.79,482.14 480.90,481.99 481.25,481.51 481.29,481.45 481.60,484.13 481.86,486.38 481.95,485.87 482.30,483.90 482.65,481.92 482.90,480.53 483.00,480.72 483.35,481.37 483.70,482.02 483.84,482.29 484.05,482.07 484.40,481.70 484.45,481.65 484.75,482.52 485.10,483.53 485.39,484.36 485.45,484.28 485.80,483.79 485.93,483.61 486.15,483.90 486.50,484.36 486.71,484.64 486.85,484.65 487.20,484.68 487.55,484.72 487.81,484.74 487.90,484.55 488.25,483.84 488.31,483.73 488.60,483.12 488.85,482.60 488.95,482.92 489.30,484.00 489.44,484.45 489.65,483.80 489.97,482.81 490.00,482.85 490.35,483.33 490.70,483.80 490.74,483.85 491.05,483.53 491.40,483.16 491.73,482.82 491.75,482.82 492.10,482.88 492.45,482.71 492.62,482.33 492.80,481.71 493.15,477.97 493.50,471.17 493.60,469.32 493.85,465.51 494.20,467.26 494.45,471.71 494.55,474.11 494.90,480.24 495.25,482.95 495.55,483.94 495.60,483.93 495.95,483.74 496.25,483.30 496.30,483.21 496.65,482.13 497.00,480.64 497.26,480.05 497.35,480.17 497.70,481.60 498.02,483.40 498.05,483.47 498.40,483.97 498.75,483.89 498.95,483.72 499.10,483.45 499.45,482.81 499.80,482.16 499.94,481.89 500.15,482.29 500.50,482.97 500.60,483.17 500.85,483.91 501.20,484.96 501.55,486.01 501.61,486.17 501.90,485.69 502.25,485.11 502.60,484.54 502.62,484.50 502.95,483.81 503.30,483.07 503.47,482.72 503.65,482.97 504.00,483.46 504.35,483.94 504.47,484.11 504.70,483.46 505.05,482.46 505.18,482.08 505.40,482.13 505.75,482.21 506.10,482.30 506.17,482.31 506.45,482.30 506.80,482.28 507.15,482.26 507.25,482.26 507.50,482.43 507.85,482.67 508.16,482.89 508.20,482.94 508.55,483.40 508.81,483.75 508.90,483.49 509.25,482.43 509.59,481.40 509.60,481.40 509.95,481.52 510.30,481.64 510.57,481.73 510.65,481.89 511.00,482.56 511.35,483.23 511.62,483.76 511.70,483.65 512.05,483.16 512.40,482.66 512.41,482.64 512.75,481.84 513.03,481.17 513.10,481.29 513.45,481.87 513.75,482.35 513.80,482.16 514.15,480.95 514.50,479.74 514.56,479.53 514.85,479.90 515.20,480.34 515.55,480.78 515.68,480.94 515.90,481.37 516.25,482.04 516.57,482.66 516.60,482.60 516.95,481.94 517.30,481.29 517.43,481.04 517.65,480.55 517.94,479.91 518.00,479.99 518.35,480.45 518.70,480.91 518.97,481.27 519.05,481.38 519.40,481.85 519.63,482.15 519.75,482.13 520.10,482.05 520.45,481.88 520.71,481.48 520.80,481.03 521.15,478.25 521.50,474.14 521.81,471.26 521.85,471.13 522.20,472.00 522.43,473.81 522.55,475.51 522.90,479.47 522.95,479.89 523.25,481.03 523.60,481.76 523.73,481.98 523.95,481.42 524.26,480.63 524.30,480.72 524.65,481.45 524.82,481.82 525.00,481.54 525.35,480.99 525.67,480.48 525.70,480.44 526.05,480.02 526.40,479.59 526.58,479.36 526.75,479.93 527.10,481.13 527.17,481.38 527.45,479.78 527.80,477.75 527.80,477.74 528.15,479.26 528.50,480.82 528.51,480.87 528.85,479.71 529.20,478.46 529.53,477.12 529.55,477.14 529.90,477.05 530.25,475.27 530.47,472.93 530.60,470.28 530.95,463.10 530.99,462.35 531.30,460.78 531.65,464.08 532.00,470.49 532.08,471.86 532.35,476.01 532.70,479.13 532.94,480.21 533.05,479.84 533.40,478.36 533.63,477.26 533.75,477.19 534.10,476.95 534.42,476.73 534.45,476.86 534.80,478.56 535.00,479.57 535.15,478.88 535.50,477.20 535.85,475.27 535.95,474.60 536.20,473.69 536.55,469.60 536.90,462.34 537.02,460.01 537.25,457.93 537.60,461.90 537.95,470.55 538.06,472.93 538.30,475.02 538.65,473.92 538.83,471.54 539.00,469.35 539.35,463.19 539.70,460.22 539.85,461.29 540.05,464.46 540.40,471.79 540.55,474.40 540.75,475.75 541.10,475.97 541.43,474.99 541.45,475.10 541.80,476.89 541.94,477.59 542.15,477.71 542.50,477.12 542.50,477.11 542.85,471.56 543.20,461.94 543.21,461.57 543.55,454.75 543.90,455.69 544.17,461.68 544.25,463.79 544.60,471.01 544.90,473.88 544.95,474.76 545.30,479.82 545.41,481.20 545.65,480.11 546.00,478.44 546.35,476.72 546.35,476.71 546.70,475.41 547.04,473.14 547.05,473.07 547.40,468.91 547.57,465.36 547.75,461.85 548.10,457.33 548.45,461.55 548.52,463.42 548.80,470.20 549.08,475.82 549.15,476.30 549.50,476.24 549.85,473.53 549.86,473.47 550.20,473.24 550.26,472.69 550.55,461.28 550.72,452.19 550.90,443.92 551.25,433.87 551.37,434.18 551.60,440.36 551.95,456.31 552.19,464.93 552.30,467.31 552.63,468.83 552.65,468.58 553.00,460.41 553.33,447.82 553.35,447.41 553.70,445.03 553.73,445.46 554.05,450.19 554.21,455.10 554.40,462.65 554.75,472.70 554.89,474.98 555.10,473.56 555.32,470.94 555.45,471.94 555.80,472.41 555.84,472.22 556.15,464.02 556.50,456.19 556.53,455.85 556.85,458.19 557.20,465.68 557.22,466.16 557.55,471.19 557.90,472.49 557.92,472.44 558.25,468.38 558.35,466.66 558.60,462.77 558.81,460.09 558.95,458.96 559.30,460.22 559.37,460.97 559.65,467.28 559.86,471.38 560.00,473.02 560.35,475.62 560.47,476.18 560.70,475.88 560.91,475.52 561.05,474.45 561.40,471.65 561.53,470.62 561.75,471.51 562.10,472.94 562.23,473.47 562.45,473.63 562.76,473.86 562.80,473.71 563.15,472.29 563.47,471.01 563.50,471.01 563.83,471.06 563.85,470.96 564.15,469.81 564.20,469.72 564.55,469.07 564.55,469.10 564.90,471.30 565.09,472.53 565.25,473.57 565.45,474.91 565.60,472.42 565.78,469.34 565.95,469.63 566.30,470.25 566.30,470.26 566.65,469.34 566.78,469.00 567.00,468.92 567.35,468.81 567.45,468.77 567.70,468.71 568.05,468.62 568.06,468.62 568.40,469.27 568.75,469.94 568.76,469.96 569.10,470.32 569.41,470.64 569.45,470.72 569.80,471.37 570.11,471.80 570.15,471.40 570.50,467.96 570.52,467.78 570.85,469.20 571.20,471.10 571.23,471.31 571.55,473.50 571.88,475.92 571.90,475.89 572.25,475.27 572.40,474.93 572.60,473.31 572.82,471.46 572.95,471.89 573.28,472.95 573.30,472.95 573.65,472.98 573.77,472.99 574.00,475.29 574.14,476.73 574.35,476.17 574.70,475.22 574.84,474.85 575.05,476.58 575.40,479.25 575.51,480.09 575.75,476.89 576.09,472.39 576.10,472.46 576.45,474.20 576.51,474.50 576.80,473.43 577.08,472.39 577.15,473.17 577.50,476.96 577.57,477.70 577.85,476.28 578.01,475.48 578.20,476.31 578.55,477.81 578.56,477.87 578.90,474.99 578.99,474.24 579.25,472.90 579.36,472.34 579.60,473.95 579.80,475.27 579.95,474.66 580.21,473.64 580.30,474.35 580.65,477.10 580.86,478.79 581.00,478.32 581.35,477.10 581.44,476.78 581.70,478.60 581.94,480.33 582.05,480.15 582.40,479.56 582.45,479.47 582.75,481.24 582.85,481.85 583.10,480.69 583.41,479.24 583.45,479.44 583.80,481.10 584.07,482.38 584.15,482.60 584.50,483.59 584.58,483.83 584.85,486.66 585.02,488.47 585.20,489.25 585.36,489.94 585.55,488.31 585.70,487.02 585.90,486.77 586.25,485.72 586.31,485.49 586.60,487.32 586.95,489.53 587.02,489.95 587.30,488.09 587.47,486.98 587.65,488.09 588.00,490.22 588.03,490.43 588.35,489.84 588.56,489.45 588.70,488.97 589.05,487.80 589.18,487.37 589.40,488.44 589.75,490.13 589.78,490.29 590.10,487.15 590.45,483.72 590.45,483.71 590.80,485.79 591.00,486.98 591.15,486.74 591.50,486.18 591.55,486.10 591.85,486.49 592.20,486.94 592.22,486.96 592.55,486.08 592.72,485.65 592.90,485.34 593.15,484.93 593.25,484.77 593.60,484.22 593.62,484.19 593.95,484.57 594.28,484.95 594.30,484.87 594.65,483.51 594.67,483.44 595.00,484.66 595.22,485.50 595.35,485.01 595.70,483.72 595.90,482.98 596.05,483.80 596.40,485.77 596.56,486.65 596.75,487.53 597.05,488.89 597.10,488.09 597.38,483.82 597.45,483.91 597.80,484.40 598.07,484.76 598.15,484.55 598.50,484.02 598.79,483.83 598.85,483.84 599.20,483.92 599.38,483.96 599.55,484.14 599.90,484.52 599.94,484.57 600.25,485.66 600.53,486.61 600.60,486.59 600.95,486.47 601.00,486.45 601.30,488.33 601.57,490.02 601.65,489.76 602.00,488.67 602.11,488.13 602.35,487.89 602.70,487.54 602.89,487.36 603.05,487.09 603.40,486.53 603.60,486.21 603.75,486.84 604.10,488.29 604.41,489.55 604.45,489.57 604.80,489.77 604.83,489.78 605.15,489.89 605.50,490.00 605.59,490.03 605.85,487.97 606.17,485.44 606.20,485.50 606.55,486.41 606.82,487.08 606.90,487.17 607.25,487.75 607.30,487.85 607.60,488.99 607.88,490.06 607.95,489.64 608.30,487.42 608.31,487.34 608.65,488.99 608.89,490.15 609.00,490.15 609.35,490.18 609.47,490.18 609.70,489.39 610.05,488.19 610.26,487.47 610.40,487.62 610.75,488.00 611.00,488.27 611.10,488.78 611.45,490.64 611.75,492.22 611.80,491.96 612.15,490.05 612.44,488.48 612.50,488.39 612.85,487.81 613.20,487.23 613.35,486.99 613.55,488.47 613.90,491.06 613.93,491.26 614.25,492.42 614.60,493.63 614.78,494.24 614.95,493.69 615.27,492.64 615.30,492.59 615.65,491.97 616.00,491.35 616.22,490.97 616.35,490.77 616.70,490.25 616.87,490.00 617.05,490.26 617.40,490.77 617.73,491.24 617.75,491.22 618.10,490.69 618.45,490.18 618.46,490.16 618.80,491.71 619.15,493.29 619.32,494.06 619.50,493.27 619.85,491.74 620.20,490.19 620.20,490.18 620.55,491.33 620.90,492.48 621.25,493.63 621.28,493.73 621.60,493.68 621.95,493.62 622.30,493.57 622.33,493.57 622.65,493.78 623.00,494.01 623.20,494.14 623.35,493.76 623.70,492.83 624.05,491.91 624.29,491.27 624.40,491.26 624.75,491.23 625.10,491.20 625.24,491.19 625.45,491.41 625.80,491.76 626.15,492.11 626.28,492.24 626.50,491.81 626.85,491.14 626.92,491.01 627.20,492.46 627.53,494.17 627.55,494.08 627.90,492.67 628.25,491.26 628.37,490.78 628.60,491.00 628.95,491.35 629.10,491.50 629.30,492.22 629.65,493.50 629.67,493.58 630.00,492.31 630.32,491.09 630.35,491.05 630.70,490.72 630.96,490.47 631.05,490.54 631.40,490.77 631.66,490.95 631.75,491.02 632.10,491.31 632.21,491.40 632.45,491.69 632.78,492.08 632.80,492.06 633.15,491.67 633.50,491.28 633.78,490.97 633.85,491.04 634.20,491.35 634.55,491.67 634.72,491.82 634.90,492.46 635.25,493.72 635.34,494.05 635.60,493.26 635.95,492.20 635.98,492.12 636.30,491.86 636.65,491.58 636.91,491.37 637.00,491.42 637.35,491.59 637.70,491.76 637.77,491.79 638.05,491.60 638.40,491.36 638.64,491.19 638.75,491.41 639.10,492.12 639.21,492.35 639.45,492.71 639.80,493.24 639.87,493.34 640.15,493.10 640.50,492.80 640.78,492.56 640.85,492.37 641.20,491.50 641.51,490.72 641.55,490.75 641.90,491.06 642.25,491.36 642.54,491.62 642.60,491.72 642.95,492.30 643.10,492.54 643.30,492.07 643.65,491.26 643.90,490.68 644.00,490.76 644.35,491.06 644.59,491.26 644.70,491.29 645.05,491.37 645.40,491.45 645.53,491.48 645.75,491.86 646.10,492.48 646.45,493.09 646.59,493.34 646.80,492.85 647.15,492.03 647.50,491.21 647.62,490.91 647.85,491.83 648.13,492.97 648.20,492.88 648.55,492.39 648.85,491.97 648.90,491.93 649.25,491.70 649.60,491.47 649.77,491.36 649.95,491.71 650.30,492.41 650.49,492.78 650.65,493.09 651.00,493.75 651.05,493.84 651.35,492.20 651.70,490.28 651.99,488.70 652.05,488.96 652.40,490.42 652.58,491.18 652.75,491.04 653.10,490.76 653.31,490.59 653.45,490.67 653.80,490.88 654.15,491.08 654.20,491.11 654.50,491.81 654.85,492.63 655.05,493.10 655.20,493.08 655.55,493.02 655.82,492.98 655.90,493.07 656.25,493.47 656.31,493.53 656.60,492.26 656.95,490.74 656.98,490.62 657.30,490.63 657.65,490.63 657.85,490.64 658.00,491.37 658.35,493.08 658.41,493.37 658.70,493.60 659.05,493.88 659.40,494.16 659.48,494.22 659.75,493.53 660.10,492.66 660.40,491.91 660.45,491.85 660.80,491.41 661.15,490.96 661.42,490.63 661.50,490.74 661.85,491.19 662.20,491.64 662.50,492.02 662.55,492.08 662.90,492.51 663.25,492.95 663.43,493.16 663.60,492.92 663.95,492.44 664.30,491.96 664.31,491.94 664.65,491.98 665.00,492.02 665.24,492.04 665.35,491.93 665.70,491.58 666.05,491.23 666.32,490.96 666.40,491.29 666.75,492.69 666.84,493.03 667.10,493.62 667.45,496.40 667.49,496.74"/>
</defs>
<g fill="none" stroke-linejoin="round" stroke-width="0.9">
<use href="#tT" clip-path="url(#cTd)" stroke="#1a1a1a" stroke-width="1.05"/>
<use href="#tT" clip-path="url(#cTl)" stroke="#606060"/>
<use href="#tB" clip-path="url(#cBd)" stroke="#1a1a1a" stroke-width="1.05"/>
<use href="#tB" clip-path="url(#cBl)" stroke="#606060"/>
</g>
<text transform="translate(48.9,191.05) scale(1,1.08)" text-anchor="middle" class="pk">1</text>
<text transform="translate(54.6,200.25) scale(1,1.08)" text-anchor="middle" class="pk">2</text>
<text transform="translate(56.2,178.95) scale(1,1.08)" text-anchor="middle" class="pk">3</text>
<text transform="translate(60.4,202.15) scale(1,1.08)" text-anchor="middle" class="pk">4</text>
<text transform="translate(68.6,210.00) scale(1.05,1.17)" text-anchor="middle" class="pk">5</text>
<text transform="translate(62,222.25) scale(1,1.08)" text-anchor="middle" class="pk">6</text>
<text transform="translate(79.5,213.95) scale(1,1.08)" text-anchor="middle" class="pk">7</text>
<text transform="translate(77.3,222.75) scale(1,1.08)" text-anchor="middle" class="pk">8</text>
<text transform="translate(83.9,222.75) scale(1,1.08)" text-anchor="middle" class="pk">9</text>
<text transform="translate(94.9,213.55) scale(1,1.08)" text-anchor="middle" class="pk">10</text>
<text transform="translate(108.4,221.85) scale(1,1.08)" text-anchor="middle" class="pk">11</text>
<text transform="translate(129,224.05) scale(1,1.08)" text-anchor="middle" class="pk">12</text>
<text transform="translate(134.1,216.55) scale(1,1.08)" text-anchor="middle" class="pk">13</text>
<text transform="translate(148.3,221.45) scale(1,1.08)" text-anchor="middle" class="pk">14</text>
<text transform="translate(146.6,205.15) scale(1,1.08)" text-anchor="middle" class="pk">15</text>
<text transform="translate(160.1,213.05) scale(1,1.08)" text-anchor="middle" class="pk">16</text>
<text transform="translate(169.1,207.15) scale(1,1.08)" text-anchor="middle" class="pk">17</text>
<text transform="translate(168.8,221.55) scale(1,1.08)" text-anchor="middle" class="pk">18</text>
<text transform="translate(180.8,221.75) scale(1,1.08)" text-anchor="middle" class="pk">19</text>
<text transform="translate(181.4,200.85) scale(1,1.08)" text-anchor="middle" class="pk">20</text>
<text transform="translate(190.4,211.75) scale(1,1.08)" text-anchor="middle" class="pk">21</text>
<text transform="translate(195.9,200.35) scale(1,1.08)" text-anchor="middle" class="pk">22</text>
<text transform="translate(197.3,188.35) scale(1,1.08)" text-anchor="middle" class="pk">23</text>
<text transform="translate(204.2,142.95) scale(1,1.08)" text-anchor="middle" class="pk">24</text>
<text transform="translate(209.3,174.25) scale(1,1.08)" text-anchor="middle" class="pk">25</text>
<text transform="translate(215.5,187.25) scale(1,1.08)" text-anchor="middle" class="pk">26</text>
<text transform="translate(220.2,17.05) scale(1,1.08)" text-anchor="middle" class="pk">27</text>
<text transform="translate(250.8,214.75) scale(1,1.08)" text-anchor="middle" class="pk">28</text>
<text transform="translate(258.5,181.35) scale(1,1.08)" text-anchor="middle" class="pk">29</text>
<text transform="translate(271.5,201.95) scale(1,1.08)" text-anchor="middle" class="pk">32</text>
<text transform="translate(275.7,218.65) scale(1,1.08)" text-anchor="middle" class="pk">33</text>
<text transform="translate(300.5,209.85) scale(1,1.08)" text-anchor="middle" class="pk">34</text>
<text transform="translate(301,218.65) scale(1,1.08)" text-anchor="middle" class="pk">35</text>
<text transform="translate(316.3,217.15) scale(1,1.08)" text-anchor="middle" class="pk">36</text>
<text transform="translate(328.9,222.35) scale(1,1.08)" text-anchor="middle" class="pk">37</text>
<text transform="translate(343.2,220.25) scale(1,1.08)" text-anchor="middle" class="pk">38</text>
<text transform="translate(356.6,222.85) scale(1,1.08)" text-anchor="middle" class="pk">39</text>
<text transform="translate(377.3,223.95) scale(1,1.08)" text-anchor="middle" class="pk">40</text>
<text transform="translate(387.4,206.15) scale(1,1.08)" text-anchor="middle" class="pk">41</text>
<text transform="translate(388,224.65) scale(1,1.08)" text-anchor="middle" class="pk">42</text>
<text transform="translate(393.5,191.25) scale(1,1.08)" text-anchor="middle" class="pk">43</text>
<text transform="translate(397.7,217.55) scale(1,1.08)" text-anchor="middle" class="pk">44</text>
<text transform="translate(404.8,202.65) scale(1,1.08)" text-anchor="middle" class="pk">45</text>
<text transform="translate(417,183.45) scale(1,1.08)" text-anchor="middle" class="pk">46</text>
<text transform="translate(416,221.85) scale(1,1.08)" text-anchor="middle" class="pk">47</text>
<text transform="translate(425.9,199.05) scale(1,1.08)" text-anchor="middle" class="pk">48</text>
<text transform="translate(431.4,211.15) scale(1,1.08)" text-anchor="middle" class="pk">49</text>
<text transform="translate(440.6,184.85) scale(1,1.08)" text-anchor="middle" class="pk">50</text>
<text transform="translate(440.1,199.05) scale(1,1.08)" text-anchor="middle" class="pk">51</text>
<text transform="translate(444.5,216.85) scale(1,1.08)" text-anchor="middle" class="pk">52</text>
<text transform="translate(453.4,192.65) scale(1,1.08)" text-anchor="middle" class="pk">53</text>
<text transform="translate(461.2,221.85) scale(1,1.08)" text-anchor="middle" class="pk">54</text>
<text transform="translate(464.1,204.75) scale(1,1.08)" text-anchor="middle" class="pk">55</text>
<text transform="translate(469.8,212.55) scale(1,1.08)" text-anchor="middle" class="pk">56</text>
<text transform="translate(466.5,158.15) scale(1,1.08)" text-anchor="middle" class="pk">57</text>
<text transform="translate(475.1,178.25) scale(1,1.08)" text-anchor="middle" class="pk">58</text>
<text transform="translate(479.2,130.85) scale(1,1.08)" text-anchor="middle" class="pk">59</text>
<text transform="translate(486.2,205.55) scale(1,1.08)" text-anchor="middle" class="pk">61</text>
<text transform="translate(496.5,215.45) scale(1,1.08)" text-anchor="middle" class="pk">62</text>
<text transform="translate(502,186.25) scale(1,1.08)" text-anchor="middle" class="pk">63</text>
<text transform="translate(509.4,219.75) scale(1,1.08)" text-anchor="middle" class="pk">65</text>
<text transform="translate(532.6,221.15) scale(1,1.08)" text-anchor="middle" class="pk">66</text>
<text transform="translate(535.9,199.05) scale(1,1.08)" text-anchor="middle" class="pk">67</text>
<text transform="translate(547.3,216.35) scale(1,1.08)" text-anchor="middle" class="pk">68</text>
<text transform="translate(549.9,192.65) scale(1,1.08)" text-anchor="middle" class="pk">69</text>
<text transform="translate(551.5,181.85) scale(1,1.08)" text-anchor="middle" class="pk">70</text>
<text transform="translate(556.6,162.75) scale(1,1.08)" text-anchor="middle" class="pk">71</text>
<text transform="translate(562.2,198.25) scale(1,1.08)" text-anchor="middle" class="pk">72</text>
<text transform="translate(59.1,425.70) scale(1.05,1.17)" text-anchor="middle" class="pk">5</text>
<text transform="translate(62.5,463.25) scale(1,1.08)" text-anchor="middle" class="pk">7</text>
<text transform="translate(87.2,473.85) scale(1,1.08)" text-anchor="middle" class="pk">9</text>
<text transform="translate(103.4,475.25) scale(1,1.08)" text-anchor="middle" class="pk">11</text>
<text transform="translate(146.4,476.05) scale(1,1.08)" text-anchor="middle" class="pk">13</text>
<text transform="translate(156.2,458.35) scale(1,1.08)" text-anchor="middle" class="pk">15</text>
<text transform="translate(169.1,460.15) scale(1,1.08)" text-anchor="middle" class="pk">17</text>
<text transform="translate(168.8,474.75) scale(1,1.08)" text-anchor="middle" class="pk">18</text>
<text transform="translate(179.7,471.65) scale(1,1.08)" text-anchor="middle" class="pk">19</text>
<text transform="translate(183.5,448.85) scale(1,1.08)" text-anchor="middle" class="pk">20</text>
<text transform="translate(184.5,418.45) scale(1,1.08)" text-anchor="middle" class="pk">21</text>
<text transform="translate(193.7,465.35) scale(1,1.08)" text-anchor="middle" class="pk">22</text>
<text transform="translate(193.4,404.55) scale(1,1.08)" text-anchor="middle" class="pk">24</text>
<text transform="translate(202,363.25) scale(1,1.08)" text-anchor="middle" class="pk">25</text>
<text transform="translate(213,457.05) scale(1,1.08)" text-anchor="middle" class="pk">26</text>
<text transform="translate(215.8,266.25) scale(1,1.08)" text-anchor="middle" class="pk">27</text>
<text transform="translate(248.5,470.35) scale(1,1.08)" text-anchor="middle" class="pk">29</text>
<text transform="translate(256.7,455.85) scale(1,1.08)" text-anchor="middle" class="pk">31</text>
<text transform="translate(270.3,424.15) scale(1,1.08)" text-anchor="middle" class="pk">32</text>
<text transform="translate(273.5,451.35) scale(1,1.08)" text-anchor="middle" class="pk">34</text>
<text transform="translate(295.8,455.25) scale(1,1.08)" text-anchor="middle" class="pk">35</text>
<text transform="translate(313.3,444.15) scale(1,1.08)" text-anchor="middle" class="pk">36</text>
<text transform="translate(322,468.25) scale(1,1.08)" text-anchor="middle" class="pk">37</text>
<text transform="translate(338.5,471.95) scale(1,1.08)" text-anchor="middle" class="pk">38</text>
<text transform="translate(362,459.85) scale(1,1.08)" text-anchor="middle" class="pk">40</text>
<text transform="translate(379.4,474.05) scale(1,1.08)" text-anchor="middle" class="pk">41</text>
<text transform="translate(381.2,443.45) scale(1,1.08)" text-anchor="middle" class="pk">42</text>
<text transform="translate(390.1,474.05) scale(1,1.08)" text-anchor="middle" class="pk">43</text>
<text transform="translate(396,463.65) scale(1,1.08)" text-anchor="middle" class="pk">44</text>
<text transform="translate(403.7,455.35) scale(1,1.08)" text-anchor="middle" class="pk">45</text>
<text transform="translate(408.8,475.85) scale(1,1.08)" text-anchor="middle" class="pk">46</text>
<text transform="translate(416.8,444.85) scale(1,1.08)" text-anchor="middle" class="pk">48</text>
<text transform="translate(430.2,475.45) scale(1,1.08)" text-anchor="middle" class="pk">49</text>
<text transform="translate(441.9,475.45) scale(1,1.08)" text-anchor="middle" class="pk">52</text>
<text transform="translate(449.3,454.15) scale(1,1.08)" text-anchor="middle" class="pk">53</text>
<text transform="translate(455.5,463.05) scale(1,1.08)" text-anchor="middle" class="pk">54</text>
<text transform="translate(460.4,442.15) scale(1,1.08)" text-anchor="middle" class="pk">55</text>
<text transform="translate(467.9,457.65) scale(1,1.08)" text-anchor="middle" class="pk">56</text>
<text transform="translate(469.6,471.05) scale(1,1.08)" text-anchor="middle" class="pk">57</text>
<text transform="translate(486.4,470.05) scale(1,1.08)" text-anchor="middle" class="pk">58</text>
<text transform="translate(475.1,406.25) scale(1,1.08)" text-anchor="middle" class="pk">59</text>
<text transform="translate(487.9,447.15) scale(1,1.08)" text-anchor="middle" class="pk">60</text>
<text transform="translate(492.7,460.05) scale(1,1.08)" text-anchor="middle" class="pk">64</text>
<text transform="translate(502.7,478.05) scale(1,1.08)" text-anchor="middle" class="pk">65</text>
<text transform="translate(517.7,441.65) scale(1,1.08)" text-anchor="middle" class="pk">68</text>
<text transform="translate(536,438.15) scale(1,1.08)" text-anchor="middle" class="pk">70</text>
<text transform="translate(545.9,443.25) scale(1,1.08)" text-anchor="middle" class="pk">71</text>
<text transform="translate(555.8,433.25) scale(1,1.08)" text-anchor="middle" class="pk">72</text>
</svg></body></html>
